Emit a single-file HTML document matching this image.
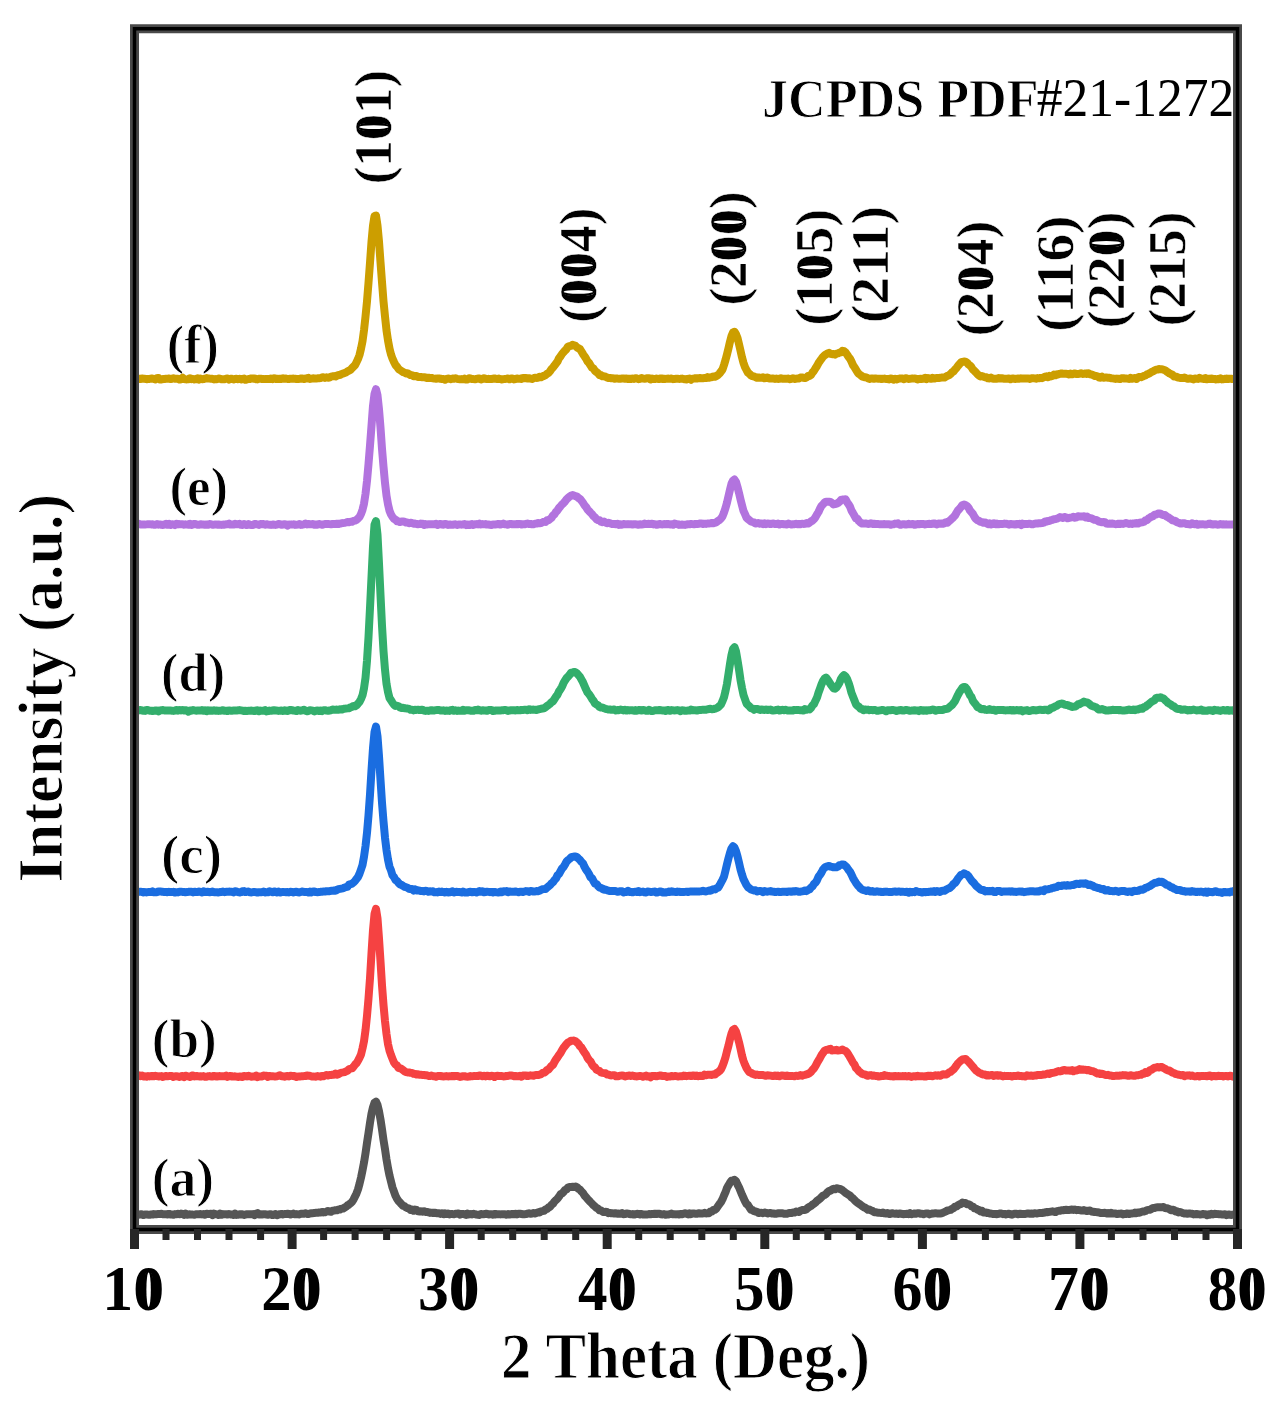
<!DOCTYPE html>
<html><head><meta charset="utf-8"><style>
html,body{margin:0;padding:0;background:#fff;}
svg{display:block;}
text{font-family:"Liberation Serif",serif;font-weight:bold;fill:#000;}
.b{font-weight:bold;}
</style></head><body>
<svg width="1286" height="1401" viewBox="0 0 1286 1401">
<rect width="1286" height="1401" fill="#fff"/>
<text transform="matrix(0.61818,0,0,0.62700,102.25,1310.20)" font-size="100">10</text>
<text transform="matrix(0.60543,0,0,0.62700,261.28,1310.20)" font-size="100">20</text>
<text transform="matrix(0.61630,0,0,0.62700,417.93,1310.20)" font-size="100">30</text>
<text transform="matrix(0.58942,0,0,0.62700,578.12,1310.20)" font-size="100">40</text>
<text transform="matrix(0.60543,0,0,0.62700,734.28,1310.20)" font-size="100">50</text>
<text transform="matrix(0.59784,0,0,0.62700,892.51,1310.20)" font-size="100">60</text>
<text transform="matrix(0.61878,0,0,0.62700,1048.00,1310.20)" font-size="100">70</text>
<text transform="matrix(0.59027,0,0,0.62700,1207.73,1310.20)" font-size="100">80</text>
<text transform="matrix(0.60853,0,0,0.64950,500.97,1377.90)" font-size="100" stroke="#fff" stroke-width="1.54">2 Theta (Deg.)</text>
<text transform="matrix(0,-0.62188,0.63750,0,61.50,882.38)" font-size="100" stroke="#fff" stroke-width="1.57">Intensity (a.u.)</text>
<text transform="matrix(0,-0.52771,0.53225,0,391.25,184.22)" font-size="100" stroke="#fff" stroke-width="0.94">(101)</text>
<text transform="matrix(0,-0.53205,0.53225,0,595.75,322.84)" font-size="100" stroke="#fff" stroke-width="0.94">(004)</text>
<text transform="matrix(0,-0.52771,0.53225,0,745.65,305.62)" font-size="100" stroke="#fff" stroke-width="0.94">(200)</text>
<text transform="matrix(0,-0.53928,0.53225,0,831.75,325.68)" font-size="100" stroke="#fff" stroke-width="0.94">(105)</text>
<text transform="matrix(0,-0.55347,0.53225,0,887.75,322.94)" font-size="100" stroke="#fff" stroke-width="0.94">(211)</text>
<text transform="matrix(0,-0.53253,0.53225,0,993.25,336.15)" font-size="100" stroke="#fff" stroke-width="0.94">(204)</text>
<text transform="matrix(0,-0.55000,0.53225,0,1073.25,331.73)" font-size="100" stroke="#fff" stroke-width="0.94">(116)</text>
<text transform="matrix(0,-0.53880,0.53225,0,1123.75,328.27)" font-size="100" stroke="#fff" stroke-width="0.94">(220)</text>
<text transform="matrix(0,-0.52916,0.53225,0,1185.05,326.23)" font-size="100" stroke="#fff" stroke-width="0.94">(215)</text>
<text transform="matrix(0.52131,0,0,0.55450,762.05,116.70)" font-size="100" stroke="#fff" stroke-width="1.80">JCPDS PDF</text>
<text transform="matrix(0.51531,0,0,0.54000,1036.77,116.20)" font-size="100"><tspan font-weight="normal">#21-1272</tspan></text>
<text transform="matrix(0.52198,0,0,0.54450,166.65,363.00)" font-size="100" stroke="#fff" stroke-width="1.84">(f)</text>
<text transform="matrix(0.52843,0,0,0.54450,169.42,504.90)" font-size="100" stroke="#fff" stroke-width="1.84">(e)</text>
<text transform="matrix(0.52423,0,0,0.54450,161.04,691.10)" font-size="100" stroke="#fff" stroke-width="1.84">(d)</text>
<text transform="matrix(0.55196,0,0,0.54450,160.92,872.80)" font-size="100" stroke="#fff" stroke-width="1.84">(c)</text>
<text transform="matrix(0.53216,0,0,0.54450,151.71,1056.60)" font-size="100" stroke="#fff" stroke-width="1.84">(b)</text>
<text transform="matrix(0.53581,0,0,0.54450,151.69,1196.10)" font-size="100" stroke="#fff" stroke-width="1.84">(a)</text>
<g transform="matrix(0.61818,0.00000,0.00000,0.62700,102.25,1310.20)"><ellipse cx="74.99" cy="-32.75" rx="9.2" ry="31" fill="#000"/><ellipse cx="74.99" cy="-32.75" rx="3.6" ry="27.5" fill="#fff"/></g>
<g transform="matrix(0.60543,0.00000,0.00000,0.62700,261.28,1310.20)"><ellipse cx="75.00" cy="-32.75" rx="9.2" ry="31" fill="#000"/><ellipse cx="75.00" cy="-32.75" rx="3.6" ry="27.5" fill="#fff"/></g>
<g transform="matrix(0.61630,0.00000,0.00000,0.62700,417.93,1310.20)"><ellipse cx="74.99" cy="-32.75" rx="9.2" ry="31" fill="#000"/><ellipse cx="74.99" cy="-32.75" rx="3.6" ry="27.5" fill="#fff"/></g>
<g transform="matrix(0.58942,0.00000,0.00000,0.62700,578.12,1310.20)"><ellipse cx="74.99" cy="-32.75" rx="9.2" ry="31" fill="#000"/><ellipse cx="74.99" cy="-32.75" rx="3.6" ry="27.5" fill="#fff"/></g>
<g transform="matrix(0.60543,0.00000,0.00000,0.62700,734.28,1310.20)"><ellipse cx="75.00" cy="-32.75" rx="9.2" ry="31" fill="#000"/><ellipse cx="75.00" cy="-32.75" rx="3.6" ry="27.5" fill="#fff"/></g>
<g transform="matrix(0.59784,0.00000,0.00000,0.62700,892.51,1310.20)"><ellipse cx="74.99" cy="-32.75" rx="9.2" ry="31" fill="#000"/><ellipse cx="74.99" cy="-32.75" rx="3.6" ry="27.5" fill="#fff"/></g>
<g transform="matrix(0.61878,0.00000,0.00000,0.62700,1048.00,1310.20)"><ellipse cx="74.99" cy="-32.75" rx="9.2" ry="31" fill="#000"/><ellipse cx="74.99" cy="-32.75" rx="3.6" ry="27.5" fill="#fff"/></g>
<g transform="matrix(0.59027,0.00000,0.00000,0.62700,1207.73,1310.20)"><ellipse cx="74.99" cy="-32.75" rx="9.2" ry="31" fill="#000"/><ellipse cx="74.99" cy="-32.75" rx="3.6" ry="27.5" fill="#fff"/></g>
<g transform="matrix(0.00000,-0.52771,0.53225,0.00000,391.25,184.22)"><ellipse cx="108.26" cy="-32.75" rx="9.2" ry="31" fill="#000"/><ellipse cx="108.26" cy="-32.75" rx="3.6" ry="27.5" fill="#fff"/></g>
<g transform="matrix(0.00000,-0.53205,0.53225,0.00000,595.75,322.84)"><ellipse cx="58.27" cy="-32.75" rx="9.2" ry="31" fill="#000"/><ellipse cx="58.27" cy="-32.75" rx="3.6" ry="27.5" fill="#fff"/></g>
<g transform="matrix(0.00000,-0.53205,0.53225,0.00000,595.75,322.84)"><ellipse cx="108.27" cy="-32.75" rx="9.2" ry="31" fill="#000"/><ellipse cx="108.27" cy="-32.75" rx="3.6" ry="27.5" fill="#fff"/></g>
<g transform="matrix(0.00000,-0.52771,0.53225,0.00000,745.65,305.62)"><ellipse cx="108.26" cy="-32.75" rx="9.2" ry="31" fill="#000"/><ellipse cx="108.26" cy="-32.75" rx="3.6" ry="27.5" fill="#fff"/></g>
<g transform="matrix(0.00000,-0.52771,0.53225,0.00000,745.65,305.62)"><ellipse cx="158.26" cy="-32.75" rx="9.2" ry="31" fill="#000"/><ellipse cx="158.26" cy="-32.75" rx="3.6" ry="27.5" fill="#fff"/></g>
<g transform="matrix(0.00000,-0.53928,0.53225,0.00000,831.75,325.68)"><ellipse cx="108.26" cy="-32.75" rx="9.2" ry="31" fill="#000"/><ellipse cx="108.26" cy="-32.75" rx="3.6" ry="27.5" fill="#fff"/></g>
<g transform="matrix(0.00000,-0.53253,0.53225,0.00000,993.25,336.15)"><ellipse cx="108.26" cy="-32.75" rx="9.2" ry="31" fill="#000"/><ellipse cx="108.26" cy="-32.75" rx="3.6" ry="27.5" fill="#fff"/></g>
<g transform="matrix(0.00000,-0.53880,0.53225,0.00000,1123.75,328.27)"><ellipse cx="158.28" cy="-32.75" rx="9.2" ry="31" fill="#000"/><ellipse cx="158.28" cy="-32.75" rx="3.6" ry="27.5" fill="#fff"/></g>
<g>
<path d="M134.5,1214.4 136.0,1214.8 137.5,1214.1 139.0,1214.7 140.5,1214.3 142.0,1214.3 143.5,1215.1 145.0,1214.5 146.5,1214.4 148.0,1214.7 149.5,1214.8 151.0,1214.4 152.5,1214.6 154.0,1214.1 155.5,1214.3 157.0,1214.2 158.5,1213.9 160.0,1213.9 161.5,1213.8 163.0,1214.3 164.5,1214.3 166.0,1214.3 167.5,1214.4 169.0,1213.9 170.5,1214.4 172.0,1214.5 173.5,1214.7 175.0,1214.1 176.5,1214.3 178.0,1213.7 179.5,1214.2 181.0,1213.6 182.5,1213.9 184.0,1214.8 185.5,1213.6 187.0,1214.7 188.5,1214.5 190.0,1214.3 191.5,1214.6 193.0,1214.6 194.5,1214.8 196.0,1214.3 197.5,1214.2 199.0,1214.2 200.5,1214.1 202.0,1214.4 203.5,1214.1 205.0,1214.8 206.5,1213.7 208.0,1214.0 209.5,1214.1 211.0,1213.7 212.5,1215.1 214.0,1213.6 215.5,1214.3 217.0,1214.2 218.5,1215.0 220.0,1213.7 221.5,1214.8 223.0,1214.1 224.5,1214.3 226.0,1214.2 227.5,1214.6 229.0,1214.0 230.5,1214.4 232.0,1214.5 233.5,1215.0 235.0,1213.6 236.5,1214.9 238.0,1214.7 239.5,1214.2 241.0,1214.5 242.5,1214.2 244.0,1215.0 245.5,1214.5 247.0,1214.3 248.5,1214.3 250.0,1214.3 251.5,1214.3 253.0,1214.1 254.5,1215.1 256.0,1213.7 257.5,1213.1 259.0,1214.4 260.5,1214.3 262.0,1214.5 263.5,1214.3 265.0,1214.3 266.5,1214.5 268.0,1214.7 269.5,1214.2 271.0,1214.3 272.5,1215.1 274.0,1214.6 275.5,1214.0 277.0,1215.2 278.5,1214.6 280.0,1214.1 281.5,1213.9 283.0,1214.4 284.5,1214.0 286.0,1213.9 287.5,1213.8 289.0,1214.0 290.5,1214.6 292.0,1214.0 293.5,1213.6 295.0,1214.3 296.5,1214.1 298.0,1214.3 299.5,1214.4 301.0,1213.8 302.5,1213.8 304.0,1213.8 305.5,1213.3 307.0,1213.9 308.5,1214.0 310.0,1213.5 311.5,1213.3 313.0,1213.2 314.5,1212.9 316.0,1212.8 317.5,1212.8 319.0,1212.5 320.5,1212.5 322.0,1211.9 323.5,1212.4 325.0,1212.2 326.5,1211.6 328.0,1210.9 329.5,1211.5 331.0,1211.7 332.5,1210.8 334.0,1210.6 335.5,1210.2 337.0,1210.3 338.5,1209.4 340.0,1209.6 341.5,1208.7 343.0,1208.6 344.5,1207.6 346.0,1206.8 347.5,1205.4 349.0,1204.6 350.5,1203.3 352.0,1201.9 353.5,1199.6 355.0,1196.5 356.5,1193.4 358.0,1189.4 359.5,1183.9 361.0,1177.6 362.5,1170.4 364.0,1162.6 365.5,1153.3 367.0,1142.9 368.5,1133.1 370.0,1122.7 371.5,1113.6 373.0,1107.2 374.5,1102.8 376.0,1101.7 377.5,1105.0 379.0,1111.3 380.5,1119.4 382.0,1129.4 383.5,1140.0 385.0,1149.2 386.5,1159.4 388.0,1168.1 389.5,1175.6 391.0,1181.5 392.5,1187.5 394.0,1191.6 395.5,1195.8 397.0,1198.8 398.5,1201.0 400.0,1202.6 401.5,1204.2 403.0,1205.9 404.5,1206.2 406.0,1207.5 407.5,1208.2 409.0,1208.5 410.5,1210.0 412.0,1209.6 413.5,1210.7 415.0,1209.6 416.5,1209.9 418.0,1211.3 419.5,1211.4 421.0,1211.3 422.5,1211.7 424.0,1211.2 425.5,1211.9 427.0,1211.9 428.5,1212.3 430.0,1212.9 431.5,1212.7 433.0,1213.0 434.5,1212.7 436.0,1213.0 437.5,1213.3 439.0,1213.2 440.5,1213.9 442.0,1213.2 443.5,1214.2 445.0,1213.3 446.5,1214.1 448.0,1213.5 449.5,1214.4 451.0,1214.0 452.5,1214.1 454.0,1214.3 455.5,1213.8 457.0,1213.7 458.5,1213.4 460.0,1214.6 461.5,1213.9 463.0,1214.0 464.5,1214.2 466.0,1214.9 467.5,1213.6 469.0,1214.4 470.5,1214.1 472.0,1214.5 473.5,1213.7 475.0,1214.2 476.5,1214.6 478.0,1214.8 479.5,1214.9 481.0,1214.0 482.5,1214.3 484.0,1214.2 485.5,1213.8 487.0,1213.8 488.5,1214.5 490.0,1214.3 491.5,1214.2 493.0,1214.7 494.5,1213.9 496.0,1214.4 497.5,1214.2 499.0,1214.2 500.5,1214.4 502.0,1214.2 503.5,1214.3 505.0,1214.2 506.5,1214.8 508.0,1214.0 509.5,1214.5 511.0,1214.3 512.5,1213.9 514.0,1214.3 515.5,1213.7 517.0,1214.4 518.5,1213.7 520.0,1213.8 521.5,1214.0 523.0,1214.2 524.5,1214.2 526.0,1214.1 527.5,1213.7 529.0,1213.3 530.5,1213.8 532.0,1213.6 533.5,1213.0 535.0,1213.5 536.5,1213.0 538.0,1212.3 539.5,1212.5 541.0,1211.4 542.5,1211.1 544.0,1210.9 545.5,1209.4 547.0,1209.0 548.5,1207.4 550.0,1206.9 551.5,1204.9 553.0,1203.7 554.5,1201.4 556.0,1200.1 557.5,1198.7 559.0,1196.7 560.5,1194.2 562.0,1193.5 563.5,1191.9 565.0,1190.0 566.5,1189.4 568.0,1187.5 569.5,1187.0 571.0,1186.9 572.5,1186.8 574.0,1186.9 575.5,1186.5 577.0,1187.1 578.5,1188.9 580.0,1189.6 581.5,1191.6 583.0,1192.9 584.5,1195.5 586.0,1197.2 587.5,1198.9 589.0,1200.5 590.5,1202.2 592.0,1203.6 593.5,1205.3 595.0,1206.6 596.5,1207.9 598.0,1208.6 599.5,1210.3 601.0,1210.5 602.5,1211.6 604.0,1212.1 605.5,1211.8 607.0,1211.9 608.5,1213.2 610.0,1212.9 611.5,1213.3 613.0,1213.3 614.5,1213.6 616.0,1213.2 617.5,1213.7 619.0,1213.6 620.5,1213.8 622.0,1213.0 623.5,1214.2 625.0,1214.1 626.5,1213.4 628.0,1213.7 629.5,1214.0 631.0,1214.3 632.5,1214.1 634.0,1214.6 635.5,1214.1 637.0,1213.8 638.5,1213.9 640.0,1214.4 641.5,1213.9 643.0,1214.5 644.5,1214.5 646.0,1214.4 647.5,1214.5 649.0,1214.1 650.5,1214.2 652.0,1214.0 653.5,1214.0 655.0,1213.7 656.5,1214.0 658.0,1213.8 659.5,1213.7 661.0,1214.3 662.5,1214.4 664.0,1214.1 665.5,1214.7 667.0,1214.5 668.5,1214.5 670.0,1214.0 671.5,1213.6 673.0,1214.3 674.5,1214.2 676.0,1214.4 677.5,1214.2 679.0,1214.5 680.5,1213.9 682.0,1214.3 683.5,1213.7 685.0,1213.2 686.5,1213.8 688.0,1214.4 689.5,1213.3 691.0,1214.2 692.5,1213.5 694.0,1213.6 695.5,1213.7 697.0,1213.7 698.5,1213.2 700.0,1213.5 701.5,1213.5 703.0,1213.5 704.5,1212.8 706.0,1213.4 707.5,1213.3 709.0,1213.2 710.5,1211.4 712.0,1211.4 713.5,1209.9 715.0,1209.7 716.5,1208.4 718.0,1206.1 719.5,1203.9 721.0,1202.0 722.5,1199.2 724.0,1195.5 725.5,1192.2 727.0,1187.9 728.5,1185.2 730.0,1182.7 731.5,1180.7 733.0,1180.3 734.5,1179.8 736.0,1181.0 737.5,1184.5 739.0,1187.3 740.5,1191.0 742.0,1194.7 743.5,1198.0 745.0,1201.3 746.5,1204.0 748.0,1205.1 749.5,1207.5 751.0,1209.7 752.5,1209.9 754.0,1211.2 755.5,1211.5 757.0,1211.8 758.5,1212.9 760.0,1212.9 761.5,1212.7 763.0,1213.2 764.5,1212.5 766.0,1212.8 767.5,1213.5 769.0,1213.2 770.5,1212.9 772.0,1213.5 773.5,1213.5 775.0,1213.8 776.5,1213.7 778.0,1213.3 779.5,1213.2 781.0,1213.3 782.5,1213.3 784.0,1213.8 785.5,1213.8 787.0,1213.7 788.5,1213.2 790.0,1212.9 791.5,1213.1 793.0,1212.5 794.5,1212.5 796.0,1211.6 797.5,1211.7 799.0,1212.0 800.5,1210.7 802.0,1210.1 803.5,1210.0 805.0,1210.0 806.5,1209.2 808.0,1207.7 809.5,1206.8 811.0,1206.0 812.5,1204.6 814.0,1203.8 815.5,1202.5 817.0,1200.8 818.5,1199.8 820.0,1198.6 821.5,1197.1 823.0,1195.6 824.5,1195.0 826.0,1194.1 827.5,1192.2 829.0,1191.1 830.5,1190.6 832.0,1189.6 833.5,1188.8 835.0,1189.3 836.5,1188.3 838.0,1188.5 839.5,1188.9 841.0,1189.4 842.5,1190.3 844.0,1191.5 845.5,1192.9 847.0,1193.7 848.5,1194.8 850.0,1195.6 851.5,1197.4 853.0,1198.4 854.5,1200.0 856.0,1201.7 857.5,1202.7 859.0,1203.8 860.5,1204.7 862.0,1206.0 863.5,1207.1 865.0,1207.6 866.5,1208.6 868.0,1209.8 869.5,1209.5 871.0,1210.5 872.5,1210.8 874.0,1212.2 875.5,1212.2 877.0,1212.5 878.5,1212.7 880.0,1212.9 881.5,1213.1 883.0,1212.6 884.5,1213.4 886.0,1213.6 887.5,1213.0 889.0,1213.9 890.5,1213.9 892.0,1213.2 893.5,1213.6 895.0,1213.7 896.5,1213.6 898.0,1214.0 899.5,1213.4 901.0,1213.8 902.5,1214.0 904.0,1214.2 905.5,1213.9 907.0,1213.8 908.5,1214.2 910.0,1213.2 911.5,1214.3 913.0,1213.8 914.5,1213.5 916.0,1213.8 917.5,1213.3 919.0,1213.2 920.5,1213.8 922.0,1213.7 923.5,1214.2 925.0,1213.6 926.5,1213.4 928.0,1213.5 929.5,1214.4 931.0,1213.8 932.5,1213.5 934.0,1213.4 935.5,1213.2 937.0,1213.4 938.5,1213.5 940.0,1213.6 941.5,1213.3 943.0,1212.7 944.5,1212.0 946.0,1211.4 947.5,1210.4 949.0,1210.2 950.5,1209.9 952.0,1208.8 953.5,1208.1 955.0,1206.6 956.5,1206.4 958.0,1205.3 959.5,1204.4 961.0,1203.9 962.5,1202.6 964.0,1203.0 965.5,1203.0 967.0,1204.3 968.5,1204.3 970.0,1204.9 971.5,1206.3 973.0,1206.6 974.5,1208.4 976.0,1208.6 977.5,1209.6 979.0,1210.1 980.5,1211.4 982.0,1210.9 983.5,1212.4 985.0,1212.3 986.5,1212.9 988.0,1212.8 989.5,1213.5 991.0,1213.6 992.5,1213.9 994.0,1213.9 995.5,1214.0 997.0,1214.2 998.5,1213.8 1000.0,1213.5 1001.5,1213.5 1003.0,1214.2 1004.5,1213.9 1006.0,1214.4 1007.5,1214.0 1009.0,1213.7 1010.5,1214.3 1012.0,1214.7 1013.5,1213.9 1015.0,1213.7 1016.5,1213.7 1018.0,1214.3 1019.5,1213.7 1021.0,1213.8 1022.5,1214.1 1024.0,1213.9 1025.5,1213.9 1027.0,1213.6 1028.5,1213.5 1030.0,1213.7 1031.5,1213.6 1033.0,1213.7 1034.5,1213.2 1036.0,1213.4 1037.5,1213.4 1039.0,1213.1 1040.5,1213.1 1042.0,1213.1 1043.5,1212.7 1045.0,1212.5 1046.5,1212.0 1048.0,1212.2 1049.5,1211.9 1051.0,1211.6 1052.5,1211.3 1054.0,1211.6 1055.5,1212.1 1057.0,1211.1 1058.5,1210.8 1060.0,1210.8 1061.5,1210.2 1063.0,1210.3 1064.5,1209.9 1066.0,1209.8 1067.5,1210.0 1069.0,1209.9 1070.5,1209.8 1072.0,1209.5 1073.5,1209.9 1075.0,1209.5 1076.5,1210.2 1078.0,1209.9 1079.5,1210.1 1081.0,1210.5 1082.5,1210.6 1084.0,1210.1 1085.5,1210.7 1087.0,1211.1 1088.5,1210.7 1090.0,1210.5 1091.5,1211.5 1093.0,1211.7 1094.5,1212.0 1096.0,1212.1 1097.5,1212.3 1099.0,1212.5 1100.5,1213.0 1102.0,1212.9 1103.5,1213.0 1105.0,1212.8 1106.5,1213.5 1108.0,1213.1 1109.5,1213.6 1111.0,1212.7 1112.5,1213.6 1114.0,1213.5 1115.5,1213.4 1117.0,1214.1 1118.5,1213.8 1120.0,1213.7 1121.5,1213.5 1123.0,1214.4 1124.5,1214.0 1126.0,1213.9 1127.5,1213.4 1129.0,1214.1 1130.5,1213.7 1132.0,1213.4 1133.5,1213.3 1135.0,1212.6 1136.5,1213.2 1138.0,1212.4 1139.5,1212.8 1141.0,1212.0 1142.5,1211.6 1144.0,1211.5 1145.5,1211.0 1147.0,1210.1 1148.5,1209.9 1150.0,1209.7 1151.5,1208.9 1153.0,1208.0 1154.5,1208.0 1156.0,1207.4 1157.5,1207.3 1159.0,1207.3 1160.5,1207.2 1162.0,1207.3 1163.5,1207.0 1165.0,1208.0 1166.5,1208.2 1168.0,1208.5 1169.5,1209.2 1171.0,1210.3 1172.5,1209.7 1174.0,1210.1 1175.5,1211.4 1177.0,1211.3 1178.5,1212.4 1180.0,1212.0 1181.5,1212.5 1183.0,1213.2 1184.5,1213.5 1186.0,1213.5 1187.5,1213.7 1189.0,1213.6 1190.5,1213.6 1192.0,1213.8 1193.5,1214.4 1195.0,1214.2 1196.5,1214.0 1198.0,1214.2 1199.5,1214.4 1201.0,1214.5 1202.5,1214.1 1204.0,1214.1 1205.5,1214.3 1207.0,1215.1 1208.5,1214.3 1210.0,1214.7 1211.5,1213.7 1213.0,1214.5 1214.5,1213.8 1216.0,1213.9 1217.5,1214.1 1219.0,1214.2 1220.5,1214.3 1222.0,1214.4 1223.5,1214.4 1225.0,1214.2 1226.5,1215.2 1228.0,1214.5 1229.5,1214.6 1231.0,1215.0 1232.5,1214.7 1234.0,1214.5 1235.5,1214.4 1237.0,1215.0" fill="none" stroke="#555555" stroke-width="8.0" stroke-linejoin="round"/>
<path d="M134.5,1075.8 136.0,1075.8 137.5,1076.5 139.0,1075.4 140.5,1076.2 142.0,1075.5 143.5,1076.6 145.0,1076.3 146.5,1076.7 148.0,1076.1 149.5,1076.4 151.0,1076.1 152.5,1076.0 154.0,1076.3 155.5,1075.8 157.0,1076.1 158.5,1076.5 160.0,1076.3 161.5,1076.1 163.0,1077.0 164.5,1076.3 166.0,1076.0 167.5,1076.3 169.0,1076.1 170.5,1076.1 172.0,1076.1 173.5,1077.0 175.0,1076.3 176.5,1076.3 178.0,1076.5 179.5,1077.0 181.0,1076.2 182.5,1076.0 184.0,1077.1 185.5,1075.7 187.0,1076.1 188.5,1076.5 190.0,1077.0 191.5,1075.9 193.0,1075.4 194.5,1076.5 196.0,1076.1 197.5,1076.1 199.0,1076.4 200.5,1076.3 202.0,1076.4 203.5,1076.1 205.0,1076.7 206.5,1076.8 208.0,1076.3 209.5,1076.1 211.0,1076.5 212.5,1076.4 214.0,1075.9 215.5,1076.1 217.0,1076.6 218.5,1076.2 220.0,1076.1 221.5,1076.3 223.0,1076.2 224.5,1076.2 226.0,1075.6 227.5,1076.9 229.0,1076.3 230.5,1075.9 232.0,1076.6 233.5,1076.4 235.0,1076.3 236.5,1076.6 238.0,1077.0 239.5,1076.4 241.0,1076.8 242.5,1077.0 244.0,1075.9 245.5,1076.1 247.0,1076.5 248.5,1075.7 250.0,1076.2 251.5,1076.7 253.0,1076.6 254.5,1076.5 256.0,1075.6 257.5,1077.1 259.0,1076.4 260.5,1076.5 262.0,1076.4 263.5,1075.6 265.0,1075.7 266.5,1075.8 268.0,1076.9 269.5,1076.0 271.0,1076.2 272.5,1076.2 274.0,1076.4 275.5,1076.4 277.0,1076.3 278.5,1075.8 280.0,1075.2 281.5,1076.3 283.0,1076.3 284.5,1076.7 286.0,1076.2 287.5,1076.0 289.0,1076.4 290.5,1075.7 292.0,1075.9 293.5,1075.9 295.0,1076.4 296.5,1077.0 298.0,1076.5 299.5,1076.6 301.0,1076.3 302.5,1076.3 304.0,1076.1 305.5,1076.1 307.0,1075.4 308.5,1075.8 310.0,1075.8 311.5,1076.5 313.0,1076.4 314.5,1076.6 316.0,1076.7 317.5,1076.0 319.0,1076.4 320.5,1076.7 322.0,1075.9 323.5,1076.2 325.0,1075.6 326.5,1075.0 328.0,1075.5 329.5,1075.0 331.0,1075.1 332.5,1074.7 334.0,1074.7 335.5,1073.6 337.0,1074.7 338.5,1074.2 340.0,1073.2 341.5,1072.6 343.0,1072.4 344.5,1072.1 346.0,1071.4 347.5,1070.8 349.0,1069.2 350.5,1068.6 352.0,1068.4 353.5,1066.8 355.0,1064.7 356.5,1063.2 358.0,1060.7 359.5,1057.8 361.0,1054.5 362.5,1048.4 364.0,1041.2 365.5,1030.3 367.0,1015.9 368.5,998.5 370.0,978.2 371.5,953.3 373.0,930.1 374.5,914.0 376.0,908.9 377.5,918.3 379.0,938.6 380.5,961.3 382.0,985.2 383.5,1004.9 385.0,1021.1 386.5,1034.0 388.0,1044.1 389.5,1050.6 391.0,1055.0 392.5,1058.9 394.0,1062.6 395.5,1064.5 397.0,1065.4 398.5,1068.0 400.0,1068.2 401.5,1068.9 403.0,1070.1 404.5,1071.2 406.0,1072.1 407.5,1072.4 409.0,1072.4 410.5,1072.8 412.0,1072.9 413.5,1073.8 415.0,1073.9 416.5,1074.5 418.0,1074.2 419.5,1074.7 421.0,1074.8 422.5,1074.9 424.0,1075.0 425.5,1075.2 427.0,1075.3 428.5,1076.0 430.0,1076.0 431.5,1075.5 433.0,1076.2 434.5,1076.2 436.0,1076.7 437.5,1076.1 439.0,1076.1 440.5,1076.0 442.0,1076.3 443.5,1076.4 445.0,1076.3 446.5,1076.1 448.0,1076.4 449.5,1076.3 451.0,1076.3 452.5,1075.9 454.0,1076.3 455.5,1075.9 457.0,1075.9 458.5,1076.3 460.0,1077.0 461.5,1076.6 463.0,1076.2 464.5,1076.2 466.0,1076.6 467.5,1076.7 469.0,1076.6 470.5,1076.1 472.0,1076.3 473.5,1076.1 475.0,1076.1 476.5,1075.9 478.0,1076.1 479.5,1075.4 481.0,1075.7 482.5,1076.3 484.0,1075.8 485.5,1076.4 487.0,1075.7 488.5,1076.0 490.0,1076.3 491.5,1075.8 493.0,1075.9 494.5,1077.0 496.0,1075.9 497.5,1075.8 499.0,1075.9 500.5,1076.1 502.0,1076.1 503.5,1076.4 505.0,1076.3 506.5,1075.9 508.0,1075.9 509.5,1075.5 511.0,1075.4 512.5,1075.7 514.0,1076.2 515.5,1076.0 517.0,1076.2 518.5,1076.2 520.0,1075.8 521.5,1076.6 523.0,1075.6 524.5,1075.5 526.0,1075.6 527.5,1076.1 529.0,1075.6 530.5,1075.3 532.0,1075.6 533.5,1075.7 535.0,1075.1 536.5,1074.9 538.0,1075.1 539.5,1074.7 541.0,1074.2 542.5,1073.0 544.0,1072.7 545.5,1071.8 547.0,1069.9 548.5,1069.7 550.0,1067.7 551.5,1065.8 553.0,1064.8 554.5,1061.9 556.0,1059.4 557.5,1057.3 559.0,1055.1 560.5,1052.9 562.0,1050.3 563.5,1047.8 565.0,1045.9 566.5,1044.1 568.0,1042.5 569.5,1041.7 571.0,1040.8 572.5,1040.7 574.0,1040.6 575.5,1041.2 577.0,1042.5 578.5,1043.9 580.0,1046.3 581.5,1047.6 583.0,1050.3 584.5,1052.6 586.0,1054.6 587.5,1057.8 589.0,1059.9 590.5,1061.3 592.0,1064.3 593.5,1066.3 595.0,1067.3 596.5,1069.7 598.0,1070.4 599.5,1071.0 601.0,1072.5 602.5,1072.9 604.0,1073.1 605.5,1073.3 607.0,1074.6 608.5,1074.5 610.0,1075.3 611.5,1075.4 613.0,1075.2 614.5,1075.3 616.0,1076.2 617.5,1076.3 619.0,1076.0 620.5,1075.6 622.0,1075.4 623.5,1075.7 625.0,1076.5 626.5,1076.0 628.0,1075.8 629.5,1075.5 631.0,1076.0 632.5,1075.6 634.0,1076.0 635.5,1076.3 637.0,1076.4 638.5,1076.1 640.0,1075.9 641.5,1076.1 643.0,1076.7 644.5,1076.2 646.0,1075.6 647.5,1076.6 649.0,1076.2 650.5,1077.3 652.0,1075.9 653.5,1076.1 655.0,1076.0 656.5,1076.3 658.0,1075.9 659.5,1075.6 661.0,1075.5 662.5,1076.1 664.0,1076.0 665.5,1076.0 667.0,1076.9 668.5,1076.5 670.0,1076.6 671.5,1076.0 673.0,1076.3 674.5,1076.1 676.0,1076.1 677.5,1076.4 679.0,1076.4 680.5,1076.2 682.0,1076.2 683.5,1075.6 685.0,1075.8 686.5,1076.2 688.0,1075.9 689.5,1075.7 691.0,1076.1 692.5,1075.6 694.0,1075.6 695.5,1076.1 697.0,1075.6 698.5,1076.2 700.0,1075.8 701.5,1075.9 703.0,1075.9 704.5,1074.6 706.0,1075.3 707.5,1074.7 709.0,1074.8 710.5,1074.8 712.0,1075.0 713.5,1074.3 715.0,1074.5 716.5,1073.1 718.0,1072.3 719.5,1071.0 721.0,1069.3 722.5,1066.0 724.0,1062.0 725.5,1057.2 727.0,1051.1 728.5,1045.6 730.0,1039.1 731.5,1033.5 733.0,1029.9 734.5,1029.0 736.0,1031.5 737.5,1036.7 739.0,1042.2 740.5,1048.7 742.0,1055.6 743.5,1060.9 745.0,1064.7 746.5,1068.0 748.0,1070.3 749.5,1072.3 751.0,1072.8 752.5,1073.7 754.0,1074.3 755.5,1075.0 757.0,1074.6 758.5,1075.0 760.0,1074.9 761.5,1075.0 763.0,1075.1 764.5,1075.5 766.0,1075.8 767.5,1075.3 769.0,1075.4 770.5,1075.6 772.0,1075.9 773.5,1076.0 775.0,1075.4 776.5,1076.0 778.0,1075.6 779.5,1076.2 781.0,1075.6 782.5,1075.6 784.0,1075.7 785.5,1076.0 787.0,1075.6 788.5,1076.1 790.0,1076.0 791.5,1076.0 793.0,1076.1 794.5,1076.3 796.0,1075.7 797.5,1075.9 799.0,1075.8 800.5,1075.0 802.0,1075.7 803.5,1075.1 805.0,1074.8 806.5,1074.4 808.0,1073.9 809.5,1073.1 811.0,1071.9 812.5,1069.9 814.0,1068.4 815.5,1066.0 817.0,1063.1 818.5,1060.5 820.0,1057.9 821.5,1055.1 823.0,1052.9 824.5,1050.8 826.0,1050.0 827.5,1049.8 829.0,1049.2 830.5,1048.8 832.0,1050.5 833.5,1050.2 835.0,1050.2 836.5,1049.8 838.0,1050.6 839.5,1050.4 841.0,1050.1 842.5,1049.5 844.0,1050.5 845.5,1051.0 847.0,1052.4 848.5,1054.7 850.0,1057.2 851.5,1059.9 853.0,1062.7 854.5,1064.5 856.0,1068.1 857.5,1069.4 859.0,1071.5 860.5,1072.4 862.0,1073.7 863.5,1074.3 865.0,1074.4 866.5,1075.4 868.0,1075.8 869.5,1075.3 871.0,1075.1 872.5,1075.7 874.0,1075.6 875.5,1076.0 877.0,1076.0 878.5,1076.6 880.0,1076.3 881.5,1076.0 883.0,1076.1 884.5,1075.1 886.0,1075.8 887.5,1075.8 889.0,1076.1 890.5,1076.2 892.0,1076.2 893.5,1076.5 895.0,1075.9 896.5,1076.3 898.0,1076.1 899.5,1076.2 901.0,1076.3 902.5,1076.1 904.0,1076.2 905.5,1076.1 907.0,1076.5 908.5,1076.1 910.0,1076.2 911.5,1077.0 913.0,1076.3 914.5,1076.3 916.0,1076.5 917.5,1075.7 919.0,1076.3 920.5,1076.3 922.0,1076.2 923.5,1076.4 925.0,1076.3 926.5,1076.4 928.0,1075.7 929.5,1076.1 931.0,1075.7 932.5,1076.3 934.0,1075.8 935.5,1075.3 937.0,1075.7 938.5,1075.2 940.0,1075.8 941.5,1075.1 943.0,1074.2 944.5,1074.5 946.0,1074.6 947.5,1073.7 949.0,1072.5 950.5,1071.9 952.0,1070.6 953.5,1069.4 955.0,1067.5 956.5,1065.5 958.0,1063.3 959.5,1061.9 961.0,1060.5 962.5,1059.4 964.0,1059.1 965.5,1058.9 967.0,1060.4 968.5,1061.6 970.0,1063.4 971.5,1065.1 973.0,1066.8 974.5,1068.7 976.0,1070.5 977.5,1071.4 979.0,1072.7 980.5,1073.2 982.0,1074.2 983.5,1074.6 985.0,1074.5 986.5,1075.6 988.0,1075.1 989.5,1075.5 991.0,1075.1 992.5,1075.1 994.0,1076.0 995.5,1075.3 997.0,1075.1 998.5,1075.8 1000.0,1075.3 1001.5,1075.8 1003.0,1076.5 1004.5,1075.8 1006.0,1076.1 1007.5,1076.1 1009.0,1076.1 1010.5,1075.9 1012.0,1076.5 1013.5,1076.0 1015.0,1076.1 1016.5,1076.0 1018.0,1075.5 1019.5,1076.1 1021.0,1076.0 1022.5,1076.2 1024.0,1076.2 1025.5,1076.5 1027.0,1075.3 1028.5,1075.7 1030.0,1075.7 1031.5,1075.5 1033.0,1075.9 1034.5,1075.6 1036.0,1075.6 1037.5,1074.9 1039.0,1075.0 1040.5,1075.1 1042.0,1074.8 1043.5,1074.5 1045.0,1074.4 1046.5,1074.0 1048.0,1073.4 1049.5,1074.0 1051.0,1072.9 1052.5,1073.0 1054.0,1072.6 1055.5,1072.4 1057.0,1071.5 1058.5,1071.1 1060.0,1071.4 1061.5,1071.1 1063.0,1070.1 1064.5,1069.9 1066.0,1070.6 1067.5,1070.6 1069.0,1070.5 1070.5,1070.7 1072.0,1070.1 1073.5,1071.3 1075.0,1070.5 1076.5,1070.5 1078.0,1070.0 1079.5,1069.1 1081.0,1069.8 1082.5,1069.4 1084.0,1069.8 1085.5,1069.8 1087.0,1070.3 1088.5,1070.0 1090.0,1070.6 1091.5,1071.1 1093.0,1071.3 1094.5,1071.9 1096.0,1072.7 1097.5,1073.6 1099.0,1073.3 1100.5,1074.1 1102.0,1073.7 1103.5,1074.3 1105.0,1074.8 1106.5,1075.1 1108.0,1074.8 1109.5,1075.5 1111.0,1075.5 1112.5,1076.0 1114.0,1075.9 1115.5,1075.8 1117.0,1075.6 1118.5,1075.8 1120.0,1075.5 1121.5,1075.5 1123.0,1075.1 1124.5,1075.3 1126.0,1075.3 1127.5,1075.7 1129.0,1075.8 1130.5,1075.2 1132.0,1075.6 1133.5,1075.7 1135.0,1075.8 1136.5,1075.3 1138.0,1075.2 1139.5,1074.7 1141.0,1074.8 1142.5,1073.6 1144.0,1073.7 1145.5,1072.2 1147.0,1073.0 1148.5,1071.9 1150.0,1070.1 1151.5,1069.8 1153.0,1068.7 1154.5,1067.8 1156.0,1067.6 1157.5,1067.0 1159.0,1067.5 1160.5,1067.0 1162.0,1067.1 1163.5,1068.0 1165.0,1068.8 1166.5,1069.7 1168.0,1070.5 1169.5,1070.6 1171.0,1071.6 1172.5,1072.6 1174.0,1073.0 1175.5,1074.1 1177.0,1074.2 1178.5,1074.7 1180.0,1074.9 1181.5,1075.3 1183.0,1075.0 1184.5,1076.3 1186.0,1075.5 1187.5,1075.6 1189.0,1075.3 1190.5,1075.9 1192.0,1075.5 1193.5,1076.1 1195.0,1076.4 1196.5,1076.2 1198.0,1075.9 1199.5,1076.5 1201.0,1076.0 1202.5,1076.1 1204.0,1076.1 1205.5,1075.9 1207.0,1076.3 1208.5,1075.7 1210.0,1075.5 1211.5,1076.6 1213.0,1075.9 1214.5,1076.0 1216.0,1076.3 1217.5,1076.0 1219.0,1075.8 1220.5,1076.1 1222.0,1075.9 1223.5,1076.4 1225.0,1076.0 1226.5,1076.1 1228.0,1076.5 1229.5,1075.7 1231.0,1075.7 1232.5,1076.5 1234.0,1076.7 1235.5,1076.3 1237.0,1076.0" fill="none" stroke="#F54242" stroke-width="8.0" stroke-linejoin="round"/>
<path d="M134.5,891.9 136.0,892.2 137.5,891.9 139.0,891.9 140.5,891.7 142.0,891.9 143.5,892.4 145.0,892.1 146.5,892.4 148.0,892.1 149.5,892.1 151.0,892.1 152.5,891.4 154.0,892.3 155.5,892.2 157.0,892.2 158.5,891.4 160.0,891.4 161.5,891.7 163.0,891.8 164.5,892.1 166.0,892.0 167.5,892.2 169.0,891.8 170.5,892.1 172.0,892.1 173.5,891.8 175.0,892.6 176.5,892.2 178.0,892.4 179.5,891.8 181.0,891.7 182.5,891.9 184.0,892.0 185.5,892.2 187.0,892.1 188.5,891.8 190.0,891.7 191.5,891.8 193.0,892.4 194.5,891.7 196.0,892.1 197.5,892.1 199.0,891.5 200.5,892.0 202.0,892.5 203.5,891.3 205.0,891.9 206.5,892.0 208.0,891.7 209.5,892.2 211.0,892.0 212.5,891.5 214.0,892.3 215.5,892.2 217.0,892.3 218.5,892.5 220.0,892.1 221.5,892.0 223.0,891.5 224.5,892.2 226.0,891.8 227.5,891.8 229.0,891.6 230.5,891.7 232.0,891.8 233.5,892.5 235.0,891.3 236.5,891.5 238.0,892.1 239.5,892.5 241.0,892.2 242.5,891.3 244.0,891.1 245.5,892.1 247.0,891.7 248.5,891.6 250.0,892.3 251.5,892.4 253.0,892.1 254.5,892.1 256.0,892.2 257.5,892.6 259.0,892.2 260.5,892.2 262.0,892.2 263.5,891.5 265.0,892.4 266.5,892.3 268.0,892.2 269.5,891.3 271.0,891.8 272.5,892.3 274.0,891.4 275.5,891.9 277.0,892.4 278.5,891.5 280.0,892.6 281.5,892.2 283.0,891.9 284.5,892.1 286.0,892.2 287.5,892.0 289.0,892.4 290.5,891.8 292.0,891.9 293.5,892.4 295.0,892.0 296.5,891.7 298.0,892.3 299.5,892.5 301.0,891.8 302.5,891.5 304.0,891.9 305.5,891.9 307.0,891.9 308.5,892.5 310.0,891.6 311.5,892.4 313.0,891.5 314.5,891.6 316.0,892.1 317.5,892.2 319.0,892.1 320.5,891.8 322.0,891.7 323.5,891.6 325.0,891.6 326.5,891.2 328.0,891.3 329.5,891.2 331.0,890.8 332.5,890.8 334.0,890.5 335.5,890.7 337.0,889.9 338.5,889.2 340.0,888.9 341.5,888.6 343.0,888.4 344.5,887.5 346.0,887.1 347.5,886.9 349.0,884.6 350.5,884.2 352.0,883.7 353.5,882.5 355.0,881.0 356.5,878.9 358.0,877.0 359.5,873.8 361.0,869.5 362.5,865.0 364.0,856.7 365.5,846.2 367.0,832.8 368.5,815.4 370.0,794.6 371.5,770.3 373.0,748.2 374.5,732.0 376.0,726.5 377.5,736.3 379.0,756.2 380.5,779.7 382.0,802.7 383.5,821.3 385.0,837.7 386.5,850.1 388.0,859.7 389.5,866.7 391.0,870.3 392.5,875.3 394.0,877.1 395.5,880.0 397.0,880.9 398.5,882.9 400.0,884.4 401.5,884.9 403.0,885.9 404.5,886.8 406.0,887.2 407.5,887.7 409.0,888.8 410.5,889.1 412.0,889.0 413.5,890.5 415.0,889.4 416.5,890.5 418.0,890.3 419.5,890.7 421.0,891.1 422.5,891.1 424.0,891.4 425.5,890.8 427.0,890.9 428.5,891.8 430.0,891.3 431.5,891.4 433.0,891.3 434.5,892.3 436.0,892.2 437.5,892.4 439.0,891.6 440.5,892.0 442.0,891.6 443.5,892.2 445.0,892.5 446.5,891.7 448.0,892.5 449.5,892.3 451.0,891.9 452.5,891.3 454.0,892.5 455.5,892.0 457.0,891.8 458.5,892.1 460.0,892.1 461.5,892.5 463.0,891.6 464.5,892.4 466.0,892.5 467.5,892.5 469.0,891.9 470.5,891.7 472.0,892.3 473.5,892.0 475.0,892.0 476.5,892.5 478.0,891.9 479.5,891.1 481.0,891.8 482.5,891.3 484.0,892.2 485.5,892.0 487.0,891.7 488.5,891.9 490.0,892.2 491.5,891.9 493.0,892.4 494.5,891.9 496.0,892.2 497.5,892.4 499.0,892.4 500.5,891.6 502.0,892.2 503.5,891.2 505.0,891.4 506.5,891.1 508.0,892.2 509.5,891.4 511.0,891.8 512.5,891.7 514.0,891.7 515.5,891.5 517.0,891.8 518.5,892.3 520.0,891.7 521.5,891.8 523.0,892.0 524.5,891.5 526.0,891.1 527.5,891.3 529.0,891.9 530.5,890.9 532.0,891.2 533.5,891.6 535.0,891.5 536.5,891.1 538.0,891.2 539.5,890.7 541.0,889.9 542.5,889.3 544.0,889.1 545.5,889.0 547.0,887.6 548.5,886.4 550.0,885.2 551.5,883.4 553.0,882.2 554.5,880.0 556.0,878.5 557.5,875.3 559.0,874.0 560.5,871.3 562.0,868.5 563.5,867.1 565.0,864.5 566.5,861.7 568.0,860.2 569.5,859.0 571.0,857.4 572.5,856.9 574.0,856.5 575.5,856.6 577.0,857.1 578.5,858.6 580.0,860.0 581.5,861.9 583.0,863.3 584.5,866.8 586.0,869.5 587.5,871.5 589.0,874.0 590.5,877.3 592.0,878.2 593.5,881.1 595.0,883.6 596.5,884.0 598.0,886.0 599.5,887.6 601.0,887.9 602.5,888.9 604.0,889.7 605.5,889.5 607.0,890.2 608.5,890.7 610.0,891.1 611.5,891.0 613.0,891.1 614.5,890.9 616.0,891.2 617.5,891.7 619.0,891.5 620.5,891.2 622.0,891.3 623.5,892.5 625.0,892.0 626.5,891.9 628.0,890.8 629.5,891.9 631.0,891.9 632.5,892.3 634.0,891.9 635.5,891.7 637.0,892.0 638.5,891.1 640.0,892.2 641.5,891.9 643.0,891.6 644.5,892.3 646.0,892.5 647.5,891.4 649.0,891.6 650.5,892.0 652.0,891.9 653.5,891.7 655.0,891.6 656.5,892.6 658.0,892.3 659.5,891.5 661.0,891.4 662.5,892.5 664.0,892.3 665.5,892.6 667.0,892.2 668.5,891.6 670.0,892.0 671.5,891.2 673.0,891.7 674.5,891.9 676.0,892.1 677.5,891.6 679.0,891.8 680.5,892.0 682.0,892.0 683.5,892.1 685.0,891.9 686.5,891.7 688.0,892.0 689.5,891.7 691.0,891.4 692.5,891.4 694.0,891.6 695.5,891.5 697.0,891.6 698.5,891.4 700.0,891.4 701.5,891.2 703.0,890.8 704.5,891.3 706.0,891.4 707.5,891.0 709.0,890.6 710.5,890.7 712.0,889.9 713.5,889.2 715.0,889.4 716.5,888.3 718.0,887.8 719.5,885.5 721.0,882.6 722.5,879.9 724.0,876.6 725.5,870.6 727.0,864.3 728.5,858.2 730.0,852.8 731.5,848.4 733.0,846.2 734.5,847.7 736.0,851.1 737.5,856.3 739.0,862.7 740.5,869.3 742.0,874.6 743.5,879.2 745.0,882.1 746.5,885.1 748.0,887.3 749.5,888.2 751.0,889.5 752.5,890.0 754.0,890.5 755.5,890.3 757.0,891.5 758.5,891.2 760.0,890.9 761.5,891.1 763.0,892.1 764.5,891.1 766.0,891.6 767.5,891.7 769.0,891.4 770.5,891.1 772.0,891.6 773.5,891.7 775.0,892.0 776.5,891.9 778.0,891.7 779.5,892.0 781.0,891.9 782.5,891.8 784.0,891.8 785.5,891.7 787.0,892.0 788.5,891.4 790.0,891.5 791.5,891.8 793.0,891.2 794.5,891.6 796.0,891.0 797.5,891.4 799.0,891.8 800.5,891.7 802.0,891.4 803.5,891.1 805.0,890.4 806.5,891.1 808.0,890.0 809.5,889.4 811.0,887.5 812.5,886.3 814.0,883.9 815.5,882.7 817.0,880.3 818.5,876.7 820.0,874.8 821.5,872.5 823.0,869.5 824.5,867.7 826.0,866.8 827.5,866.3 829.0,865.9 830.5,866.6 832.0,866.9 833.5,867.3 835.0,867.3 836.5,867.2 838.0,866.6 839.5,865.1 841.0,864.9 842.5,864.4 844.0,864.7 845.5,866.0 847.0,867.6 848.5,869.9 850.0,871.7 851.5,874.6 853.0,877.9 854.5,880.5 856.0,882.9 857.5,885.1 859.0,886.6 860.5,888.5 862.0,889.5 863.5,890.1 865.0,890.4 866.5,891.0 868.0,890.3 869.5,891.1 871.0,891.6 872.5,891.1 874.0,891.8 875.5,891.8 877.0,891.3 878.5,891.7 880.0,891.7 881.5,892.0 883.0,892.0 884.5,891.8 886.0,891.6 887.5,891.8 889.0,891.9 890.5,892.1 892.0,892.0 893.5,891.6 895.0,891.4 896.5,891.8 898.0,891.6 899.5,891.5 901.0,891.9 902.5,891.7 904.0,891.9 905.5,892.1 907.0,891.7 908.5,892.7 910.0,891.8 911.5,892.3 913.0,891.9 914.5,892.2 916.0,891.0 917.5,891.6 919.0,891.9 920.5,892.0 922.0,892.6 923.5,891.9 925.0,892.2 926.5,892.0 928.0,892.0 929.5,891.8 931.0,891.5 932.5,891.7 934.0,891.1 935.5,891.9 937.0,891.0 938.5,891.4 940.0,891.9 941.5,890.9 943.0,890.7 944.5,890.7 946.0,889.8 947.5,888.9 949.0,888.3 950.5,887.3 952.0,886.0 953.5,883.9 955.0,883.0 956.5,881.0 958.0,878.5 959.5,876.7 961.0,874.9 962.5,874.5 964.0,873.3 965.5,874.1 967.0,874.7 968.5,876.1 970.0,878.4 971.5,880.6 973.0,882.1 974.5,883.7 976.0,885.8 977.5,886.9 979.0,888.2 980.5,889.5 982.0,890.1 983.5,890.0 985.0,891.4 986.5,890.9 988.0,891.3 989.5,891.0 991.0,891.3 992.5,890.8 994.0,892.1 995.5,892.0 997.0,891.1 998.5,891.0 1000.0,891.0 1001.5,892.0 1003.0,891.5 1004.5,891.6 1006.0,891.6 1007.5,891.6 1009.0,891.3 1010.5,891.7 1012.0,891.2 1013.5,891.7 1015.0,891.8 1016.5,891.9 1018.0,891.6 1019.5,891.4 1021.0,891.7 1022.5,891.5 1024.0,892.2 1025.5,891.9 1027.0,891.6 1028.5,891.4 1030.0,891.3 1031.5,891.2 1033.0,891.3 1034.5,891.4 1036.0,891.4 1037.5,891.3 1039.0,891.6 1040.5,890.5 1042.0,890.5 1043.5,891.2 1045.0,889.3 1046.5,889.4 1048.0,889.3 1049.5,888.9 1051.0,888.6 1052.5,887.9 1054.0,887.7 1055.5,887.2 1057.0,887.1 1058.5,885.8 1060.0,885.9 1061.5,885.9 1063.0,885.4 1064.5,885.3 1066.0,885.7 1067.5,885.1 1069.0,885.5 1070.5,885.4 1072.0,885.0 1073.5,884.9 1075.0,884.4 1076.5,883.7 1078.0,883.9 1079.5,883.9 1081.0,883.4 1082.5,883.4 1084.0,883.8 1085.5,883.3 1087.0,884.1 1088.5,885.0 1090.0,884.6 1091.5,885.4 1093.0,885.9 1094.5,887.1 1096.0,887.2 1097.5,888.0 1099.0,888.0 1100.5,888.8 1102.0,889.2 1103.5,889.0 1105.0,890.5 1106.5,890.6 1108.0,890.0 1109.5,891.0 1111.0,890.9 1112.5,891.2 1114.0,891.3 1115.5,890.7 1117.0,891.3 1118.5,891.9 1120.0,891.2 1121.5,891.1 1123.0,891.0 1124.5,891.0 1126.0,891.6 1127.5,892.0 1129.0,891.5 1130.5,891.4 1132.0,892.1 1133.5,891.0 1135.0,890.8 1136.5,891.1 1138.0,890.9 1139.5,890.1 1141.0,889.6 1142.5,889.7 1144.0,889.1 1145.5,887.9 1147.0,887.5 1148.5,886.6 1150.0,886.0 1151.5,884.9 1153.0,884.0 1154.5,883.0 1156.0,882.8 1157.5,882.4 1159.0,881.6 1160.5,882.0 1162.0,881.8 1163.5,882.7 1165.0,883.7 1166.5,884.9 1168.0,885.1 1169.5,886.2 1171.0,887.2 1172.5,887.4 1174.0,888.7 1175.5,889.1 1177.0,890.0 1178.5,889.9 1180.0,889.9 1181.5,890.9 1183.0,891.2 1184.5,891.1 1186.0,891.7 1187.5,891.4 1189.0,891.4 1190.5,891.8 1192.0,891.1 1193.5,891.5 1195.0,891.7 1196.5,892.1 1198.0,891.7 1199.5,891.9 1201.0,891.6 1202.5,891.9 1204.0,892.4 1205.5,891.6 1207.0,892.7 1208.5,891.6 1210.0,891.9 1211.5,892.0 1213.0,892.3 1214.5,891.5 1216.0,891.2 1217.5,892.1 1219.0,892.2 1220.5,892.2 1222.0,892.9 1223.5,892.0 1225.0,892.0 1226.5,892.3 1228.0,892.1 1229.5,892.5 1231.0,891.5 1232.5,891.8 1234.0,890.8 1235.5,892.3 1237.0,891.8" fill="none" stroke="#1A6DE0" stroke-width="8.0" stroke-linejoin="round"/>
<path d="M134.5,710.1 136.0,710.6 137.5,710.8 139.0,710.3 140.5,710.0 142.0,710.5 143.5,710.7 145.0,710.9 146.5,710.1 148.0,710.0 149.5,710.7 151.0,710.7 152.5,711.0 154.0,710.8 155.5,710.5 157.0,710.4 158.5,711.4 160.0,710.4 161.5,710.2 163.0,710.1 164.5,710.5 166.0,710.6 167.5,710.4 169.0,710.5 170.5,710.6 172.0,710.7 173.5,710.9 175.0,710.6 176.5,709.9 178.0,710.7 179.5,710.0 181.0,710.4 182.5,710.0 184.0,710.5 185.5,710.2 187.0,710.6 188.5,711.7 190.0,710.5 191.5,710.8 193.0,710.0 194.5,710.4 196.0,710.7 197.5,710.5 199.0,710.6 200.5,710.5 202.0,710.1 203.5,710.7 205.0,710.2 206.5,711.2 208.0,710.3 209.5,710.7 211.0,710.5 212.5,710.8 214.0,710.3 215.5,710.8 217.0,710.5 218.5,710.9 220.0,710.7 221.5,710.5 223.0,710.2 224.5,710.8 226.0,710.7 227.5,711.1 229.0,710.4 230.5,710.7 232.0,710.7 233.5,710.6 235.0,710.6 236.5,710.6 238.0,710.3 239.5,710.1 241.0,710.4 242.5,710.7 244.0,711.0 245.5,710.8 247.0,710.9 248.5,710.8 250.0,710.7 251.5,710.6 253.0,710.8 254.5,711.1 256.0,710.4 257.5,710.3 259.0,711.2 260.5,710.6 262.0,710.8 263.5,710.8 265.0,710.1 266.5,711.4 268.0,711.1 269.5,710.6 271.0,710.8 272.5,710.5 274.0,710.2 275.5,710.5 277.0,710.6 278.5,710.9 280.0,710.7 281.5,710.5 283.0,711.0 284.5,710.2 286.0,710.8 287.5,710.9 289.0,710.4 290.5,709.9 292.0,710.2 293.5,710.6 295.0,710.7 296.5,711.0 298.0,710.1 299.5,710.5 301.0,710.7 302.5,710.4 304.0,709.7 305.5,710.8 307.0,711.3 308.5,710.9 310.0,710.2 311.5,710.4 313.0,710.6 314.5,711.4 316.0,710.7 317.5,710.5 319.0,711.0 320.5,710.4 322.0,711.1 323.5,710.2 325.0,710.2 326.5,710.6 328.0,710.8 329.5,710.5 331.0,710.3 332.5,709.5 334.0,709.8 335.5,709.7 337.0,709.6 338.5,709.8 340.0,709.3 341.5,709.6 343.0,709.1 344.5,708.7 346.0,708.6 347.5,708.4 349.0,708.2 350.5,707.3 352.0,706.9 353.5,705.9 355.0,706.3 356.5,705.4 358.0,703.6 359.5,701.9 361.0,699.0 362.5,695.3 364.0,688.3 365.5,677.9 367.0,660.6 368.5,637.3 370.0,607.9 371.5,577.2 373.0,546.4 374.5,524.8 376.0,521.1 377.5,534.8 379.0,563.8 380.5,595.0 382.0,625.6 383.5,651.0 385.0,669.7 386.5,683.8 388.0,692.0 389.5,698.0 391.0,700.3 392.5,702.7 394.0,704.8 395.5,705.9 397.0,705.7 398.5,706.2 400.0,707.5 401.5,708.0 403.0,707.7 404.5,708.2 406.0,708.4 407.5,708.5 409.0,708.9 410.5,709.8 412.0,709.8 413.5,710.4 415.0,709.8 416.5,709.9 418.0,709.7 419.5,710.1 421.0,709.8 422.5,709.7 424.0,710.6 425.5,710.9 427.0,710.7 428.5,710.9 430.0,710.5 431.5,710.2 433.0,710.5 434.5,710.4 436.0,710.1 437.5,709.9 439.0,710.0 440.5,710.5 442.0,710.6 443.5,710.3 445.0,711.0 446.5,710.6 448.0,710.7 449.5,710.9 451.0,710.2 452.5,709.8 454.0,710.8 455.5,710.3 457.0,711.0 458.5,710.6 460.0,710.8 461.5,710.8 463.0,709.8 464.5,710.7 466.0,710.2 467.5,710.2 469.0,710.3 470.5,710.7 472.0,710.8 473.5,710.8 475.0,709.9 476.5,710.3 478.0,709.6 479.5,710.4 481.0,710.7 482.5,710.2 484.0,710.5 485.5,710.5 487.0,710.8 488.5,710.1 490.0,710.1 491.5,710.1 493.0,711.0 494.5,710.8 496.0,710.4 497.5,710.5 499.0,710.4 500.5,710.4 502.0,710.3 503.5,710.2 505.0,709.9 506.5,710.1 508.0,710.9 509.5,710.5 511.0,710.3 512.5,710.2 514.0,710.3 515.5,710.4 517.0,710.0 518.5,710.3 520.0,710.3 521.5,709.9 523.0,709.9 524.5,709.8 526.0,709.7 527.5,710.3 529.0,709.2 530.5,709.9 532.0,709.7 533.5,709.6 535.0,709.8 536.5,710.0 538.0,709.5 539.5,709.2 541.0,708.7 542.5,708.5 544.0,708.3 545.5,707.2 547.0,706.1 548.5,705.0 550.0,703.8 551.5,702.2 553.0,701.3 554.5,699.0 556.0,696.6 557.5,694.7 559.0,691.4 560.5,689.3 562.0,686.6 563.5,683.1 565.0,680.5 566.5,678.2 568.0,676.7 569.5,674.9 571.0,672.7 572.5,672.6 574.0,671.9 575.5,672.4 577.0,673.4 578.5,675.1 580.0,676.8 581.5,679.6 583.0,682.3 584.5,685.8 586.0,689.3 587.5,692.4 589.0,694.1 590.5,696.2 592.0,698.9 593.5,700.8 595.0,703.5 596.5,704.5 598.0,705.3 599.5,706.9 601.0,707.6 602.5,707.5 604.0,708.3 605.5,708.8 607.0,709.2 608.5,709.5 610.0,709.5 611.5,709.8 613.0,709.6 614.5,709.6 616.0,710.5 617.5,710.1 619.0,710.2 620.5,709.5 622.0,710.0 623.5,710.4 625.0,709.7 626.5,710.6 628.0,710.1 629.5,710.4 631.0,710.2 632.5,710.3 634.0,710.7 635.5,710.1 637.0,710.8 638.5,710.0 640.0,710.0 641.5,710.6 643.0,710.0 644.5,710.2 646.0,710.7 647.5,710.8 649.0,709.8 650.5,710.6 652.0,711.1 653.5,710.8 655.0,710.3 656.5,710.2 658.0,710.3 659.5,710.0 661.0,710.3 662.5,710.4 664.0,710.4 665.5,710.9 667.0,710.4 668.5,709.9 670.0,710.8 671.5,710.1 673.0,710.3 674.5,710.4 676.0,710.3 677.5,710.1 679.0,710.4 680.5,711.2 682.0,710.2 683.5,710.4 685.0,710.8 686.5,710.7 688.0,710.6 689.5,710.6 691.0,709.6 692.5,710.0 694.0,710.3 695.5,710.3 697.0,710.6 698.5,710.2 700.0,709.9 701.5,709.9 703.0,709.7 704.5,709.8 706.0,709.8 707.5,709.3 709.0,709.0 710.5,708.8 712.0,709.3 713.5,709.1 715.0,708.7 716.5,708.1 718.0,707.4 719.5,706.0 721.0,704.5 722.5,701.1 724.0,697.2 725.5,691.0 727.0,683.7 728.5,673.8 730.0,663.9 731.5,654.9 733.0,649.1 734.5,647.2 736.0,651.4 737.5,660.2 739.0,669.5 740.5,679.9 742.0,688.0 743.5,695.0 745.0,699.3 746.5,703.5 748.0,705.2 749.5,706.4 751.0,708.3 752.5,708.4 754.0,709.8 755.5,709.0 757.0,708.9 758.5,709.3 760.0,710.0 761.5,709.5 763.0,709.8 764.5,709.9 766.0,709.5 767.5,710.0 769.0,709.8 770.5,709.6 772.0,710.4 773.5,710.4 775.0,710.3 776.5,709.9 778.0,709.6 779.5,710.5 781.0,710.3 782.5,709.8 784.0,710.3 785.5,709.8 787.0,710.4 788.5,710.4 790.0,710.5 791.5,710.4 793.0,710.4 794.5,709.9 796.0,710.1 797.5,710.1 799.0,710.1 800.5,710.3 802.0,710.3 803.5,710.6 805.0,709.0 806.5,709.8 808.0,709.2 809.5,709.4 811.0,707.9 812.5,705.4 814.0,704.0 815.5,700.7 817.0,697.6 818.5,692.7 820.0,688.6 821.5,684.3 823.0,680.9 824.5,678.6 826.0,677.6 827.5,679.5 829.0,681.8 830.5,684.1 832.0,686.2 833.5,688.3 835.0,688.7 836.5,687.4 838.0,685.2 839.5,682.7 841.0,678.7 842.5,676.6 844.0,675.1 845.5,676.3 847.0,678.8 848.5,682.6 850.0,687.2 851.5,692.9 853.0,696.7 854.5,700.5 856.0,704.4 857.5,705.9 859.0,706.9 860.5,708.7 862.0,708.9 863.5,710.2 865.0,709.4 866.5,709.8 868.0,709.6 869.5,710.2 871.0,709.9 872.5,710.2 874.0,710.1 875.5,710.1 877.0,710.7 878.5,710.7 880.0,710.4 881.5,710.1 883.0,710.0 884.5,710.5 886.0,711.3 887.5,710.3 889.0,710.2 890.5,710.2 892.0,710.1 893.5,710.1 895.0,710.4 896.5,711.0 898.0,710.5 899.5,710.3 901.0,709.9 902.5,710.5 904.0,710.5 905.5,710.0 907.0,710.1 908.5,710.4 910.0,710.8 911.5,710.6 913.0,710.5 914.5,710.3 916.0,710.5 917.5,710.4 919.0,711.1 920.5,710.0 922.0,710.2 923.5,710.8 925.0,710.2 926.5,710.8 928.0,710.2 929.5,710.3 931.0,710.0 932.5,709.6 934.0,709.7 935.5,710.8 937.0,710.2 938.5,710.1 940.0,710.1 941.5,709.9 943.0,709.9 944.5,709.2 946.0,708.9 947.5,708.8 949.0,707.6 950.5,706.2 952.0,705.1 953.5,703.1 955.0,701.1 956.5,697.9 958.0,694.8 959.5,692.0 961.0,690.1 962.5,687.6 964.0,686.9 965.5,687.4 967.0,689.3 968.5,692.1 970.0,695.2 971.5,697.1 973.0,701.0 974.5,702.9 976.0,704.8 977.5,707.3 979.0,707.5 980.5,709.0 982.0,709.2 983.5,708.9 985.0,709.7 986.5,709.9 988.0,709.8 989.5,709.1 991.0,709.8 992.5,710.0 994.0,709.7 995.5,710.8 997.0,710.1 998.5,710.1 1000.0,710.1 1001.5,710.0 1003.0,710.0 1004.5,710.3 1006.0,710.4 1007.5,710.2 1009.0,710.3 1010.5,709.9 1012.0,710.6 1013.5,710.1 1015.0,710.5 1016.5,710.1 1018.0,710.2 1019.5,710.5 1021.0,710.0 1022.5,711.3 1024.0,710.4 1025.5,710.4 1027.0,710.1 1028.5,710.9 1030.0,710.9 1031.5,710.5 1033.0,709.9 1034.5,710.1 1036.0,710.5 1037.5,710.1 1039.0,709.8 1040.5,709.8 1042.0,709.9 1043.5,710.0 1045.0,709.7 1046.5,709.7 1048.0,710.4 1049.5,709.6 1051.0,708.1 1052.5,707.9 1054.0,707.1 1055.5,706.2 1057.0,705.7 1058.5,704.5 1060.0,703.9 1061.5,703.6 1063.0,703.7 1064.5,704.6 1066.0,705.0 1067.5,704.9 1069.0,705.8 1070.5,706.2 1072.0,707.0 1073.5,706.7 1075.0,706.6 1076.5,705.7 1078.0,704.3 1079.5,704.2 1081.0,703.2 1082.5,702.6 1084.0,701.6 1085.5,702.2 1087.0,702.4 1088.5,703.2 1090.0,704.6 1091.5,705.7 1093.0,706.2 1094.5,706.8 1096.0,707.3 1097.5,708.6 1099.0,709.6 1100.5,709.5 1102.0,709.0 1103.5,709.6 1105.0,710.1 1106.5,710.6 1108.0,710.5 1109.5,710.3 1111.0,710.2 1112.5,709.8 1114.0,710.0 1115.5,710.1 1117.0,709.9 1118.5,710.2 1120.0,710.0 1121.5,710.3 1123.0,710.6 1124.5,710.4 1126.0,710.3 1127.5,710.0 1129.0,709.5 1130.5,710.0 1132.0,710.1 1133.5,709.5 1135.0,710.2 1136.5,709.4 1138.0,709.4 1139.5,708.9 1141.0,708.2 1142.5,708.8 1144.0,707.0 1145.5,706.9 1147.0,705.4 1148.5,704.6 1150.0,703.0 1151.5,701.8 1153.0,701.0 1154.5,700.2 1156.0,698.1 1157.5,697.7 1159.0,697.7 1160.5,697.2 1162.0,698.2 1163.5,698.5 1165.0,700.1 1166.5,701.3 1168.0,702.9 1169.5,703.8 1171.0,704.5 1172.5,706.2 1174.0,706.5 1175.5,707.9 1177.0,708.8 1178.5,709.0 1180.0,708.9 1181.5,709.8 1183.0,709.7 1184.5,709.4 1186.0,709.8 1187.5,710.5 1189.0,710.0 1190.5,710.2 1192.0,710.0 1193.5,709.6 1195.0,710.0 1196.5,710.4 1198.0,710.3 1199.5,710.2 1201.0,709.5 1202.5,710.7 1204.0,710.6 1205.5,710.7 1207.0,710.8 1208.5,710.2 1210.0,710.2 1211.5,710.5 1213.0,711.0 1214.5,709.8 1216.0,710.3 1217.5,710.2 1219.0,710.6 1220.5,710.9 1222.0,710.3 1223.5,710.0 1225.0,710.5 1226.5,710.4 1228.0,709.9 1229.5,710.8 1231.0,710.3 1232.5,710.7 1234.0,710.0 1235.5,710.9 1237.0,710.0" fill="none" stroke="#33AE6C" stroke-width="8.0" stroke-linejoin="round"/>
<path d="M134.5,524.4 136.0,524.9 137.5,524.1 139.0,523.8 140.5,524.5 142.0,524.6 143.5,524.6 145.0,524.6 146.5,524.4 148.0,524.2 149.5,524.2 151.0,524.4 152.5,524.3 154.0,524.8 155.5,524.7 157.0,524.0 158.5,524.7 160.0,524.4 161.5,524.8 163.0,525.0 164.5,524.6 166.0,523.8 167.5,524.7 169.0,523.9 170.5,525.0 172.0,524.2 173.5,524.4 175.0,525.1 176.5,523.8 178.0,524.4 179.5,524.1 181.0,524.3 182.5,524.2 184.0,524.7 185.5,524.3 187.0,524.6 188.5,524.7 190.0,523.8 191.5,524.9 193.0,524.4 194.5,523.9 196.0,524.2 197.5,524.7 199.0,524.8 200.5,524.2 202.0,524.5 203.5,524.5 205.0,524.8 206.5,524.4 208.0,524.8 209.5,524.1 211.0,524.2 212.5,524.7 214.0,524.7 215.5,524.4 217.0,524.7 218.5,524.5 220.0,524.7 221.5,524.9 223.0,524.6 224.5,524.7 226.0,524.3 227.5,524.2 229.0,523.6 230.5,524.6 232.0,524.5 233.5,524.6 235.0,523.8 236.5,524.3 238.0,524.2 239.5,523.8 241.0,524.8 242.5,524.9 244.0,524.0 245.5,524.6 247.0,525.1 248.5,524.0 250.0,524.8 251.5,525.0 253.0,525.1 254.5,524.0 256.0,524.1 257.5,524.5 259.0,524.9 260.5,524.0 262.0,524.2 263.5,524.0 265.0,524.8 266.5,524.2 268.0,524.6 269.5,524.7 271.0,524.9 272.5,524.6 274.0,524.6 275.5,524.9 277.0,524.6 278.5,524.0 280.0,524.2 281.5,524.8 283.0,524.5 284.5,524.3 286.0,524.5 287.5,525.6 289.0,524.4 290.5,524.6 292.0,524.6 293.5,524.3 295.0,524.9 296.5,524.7 298.0,524.6 299.5,524.0 301.0,524.9 302.5,524.7 304.0,524.4 305.5,523.5 307.0,524.4 308.5,524.0 310.0,524.3 311.5,524.2 313.0,524.1 314.5,524.8 316.0,524.4 317.5,524.8 319.0,524.0 320.5,524.3 322.0,524.8 323.5,524.4 325.0,524.0 326.5,523.9 328.0,523.9 329.5,524.1 331.0,524.3 332.5,524.0 334.0,524.1 335.5,524.1 337.0,523.7 338.5,524.0 340.0,523.7 341.5,523.2 343.0,523.1 344.5,522.9 346.0,522.5 347.5,522.0 349.0,522.3 350.5,521.8 352.0,521.8 353.5,520.9 355.0,520.6 356.5,519.9 358.0,518.5 359.5,517.0 361.0,514.0 362.5,509.8 364.0,503.7 365.5,494.0 367.0,480.9 368.5,464.2 370.0,445.6 371.5,425.9 373.0,405.9 374.5,393.9 376.0,389.2 377.5,395.3 379.0,409.4 380.5,427.5 382.0,448.7 383.5,466.7 385.0,482.8 386.5,495.6 388.0,504.4 389.5,510.7 391.0,514.5 392.5,516.9 394.0,518.9 395.5,519.6 397.0,521.2 398.5,521.3 400.0,522.1 401.5,521.5 403.0,521.5 404.5,521.7 406.0,522.6 407.5,522.5 409.0,523.3 410.5,522.8 412.0,523.0 413.5,523.7 415.0,523.6 416.5,524.0 418.0,524.2 419.5,524.1 421.0,523.6 422.5,523.8 424.0,525.0 425.5,524.1 427.0,524.4 428.5,524.3 430.0,524.3 431.5,524.3 433.0,524.2 434.5,524.2 436.0,523.7 437.5,525.0 439.0,524.4 440.5,523.9 442.0,524.6 443.5,524.7 445.0,523.9 446.5,524.2 448.0,525.0 449.5,524.6 451.0,524.6 452.5,524.8 454.0,524.4 455.5,524.3 457.0,525.0 458.5,524.4 460.0,524.4 461.5,524.7 463.0,524.4 464.5,524.0 466.0,525.1 467.5,524.4 469.0,525.1 470.5,524.6 472.0,524.1 473.5,525.0 475.0,524.3 476.5,524.1 478.0,524.4 479.5,523.6 481.0,524.5 482.5,524.1 484.0,524.3 485.5,524.1 487.0,524.6 488.5,524.5 490.0,524.8 491.5,525.0 493.0,524.5 494.5,524.4 496.0,524.4 497.5,524.0 499.0,524.1 500.5,524.6 502.0,524.0 503.5,523.6 505.0,524.2 506.5,524.4 508.0,524.8 509.5,524.0 511.0,523.9 512.5,524.3 514.0,524.2 515.5,524.3 517.0,524.0 518.5,524.2 520.0,523.9 521.5,524.5 523.0,524.2 524.5,524.3 526.0,523.9 527.5,523.5 529.0,524.0 530.5,523.9 532.0,524.3 533.5,524.2 535.0,523.7 536.5,523.6 538.0,523.1 539.5,523.2 541.0,523.0 542.5,522.4 544.0,521.7 545.5,521.9 547.0,520.3 548.5,520.3 550.0,519.0 551.5,517.8 553.0,515.4 554.5,514.3 556.0,511.8 557.5,510.3 559.0,508.0 560.5,506.3 562.0,504.5 563.5,503.2 565.0,501.5 566.5,499.4 568.0,498.0 569.5,496.6 571.0,495.7 572.5,495.0 574.0,495.5 575.5,496.2 577.0,496.4 578.5,498.0 580.0,498.9 581.5,500.7 583.0,502.8 584.5,505.3 586.0,506.9 587.5,509.4 589.0,511.0 590.5,512.7 592.0,514.1 593.5,516.2 595.0,517.4 596.5,519.2 598.0,520.1 599.5,520.2 601.0,521.8 602.5,522.3 604.0,521.5 605.5,522.5 607.0,523.3 608.5,522.8 610.0,523.3 611.5,523.9 613.0,523.9 614.5,524.0 616.0,524.2 617.5,523.7 619.0,524.9 620.5,524.2 622.0,524.8 623.5,524.0 625.0,524.3 626.5,524.3 628.0,524.1 629.5,524.3 631.0,524.3 632.5,524.5 634.0,524.3 635.5,524.3 637.0,524.4 638.5,524.8 640.0,524.3 641.5,524.5 643.0,524.3 644.5,523.6 646.0,524.0 647.5,524.0 649.0,523.8 650.5,524.1 652.0,523.7 653.5,524.4 655.0,524.2 656.5,524.8 658.0,524.5 659.5,523.9 661.0,524.3 662.5,524.4 664.0,524.1 665.5,524.2 667.0,524.0 668.5,524.1 670.0,524.5 671.5,524.3 673.0,524.8 674.5,523.6 676.0,524.1 677.5,524.2 679.0,524.9 680.5,524.7 682.0,524.6 683.5,524.7 685.0,524.9 686.5,524.5 688.0,524.2 689.5,524.3 691.0,523.9 692.5,524.1 694.0,524.3 695.5,523.9 697.0,524.1 698.5,523.8 700.0,523.5 701.5,523.4 703.0,524.0 704.5,523.7 706.0,523.9 707.5,523.5 709.0,523.4 710.5,523.3 712.0,522.9 713.5,523.3 715.0,522.8 716.5,522.1 718.0,520.9 719.5,520.0 721.0,518.5 722.5,516.4 724.0,512.5 725.5,508.0 727.0,502.6 728.5,496.1 730.0,489.6 731.5,483.6 733.0,480.7 734.5,479.6 736.0,481.9 737.5,487.1 739.0,492.9 740.5,499.3 742.0,505.2 743.5,510.9 745.0,514.2 746.5,517.6 748.0,519.1 749.5,520.2 751.0,521.5 752.5,522.0 754.0,522.4 755.5,523.5 757.0,523.2 758.5,523.1 760.0,523.7 761.5,523.4 763.0,524.1 764.5,523.2 766.0,524.2 767.5,523.5 769.0,523.7 770.5,524.1 772.0,523.7 773.5,523.5 775.0,524.0 776.5,524.0 778.0,523.6 779.5,524.5 781.0,523.9 782.5,524.0 784.0,524.2 785.5,524.3 787.0,524.6 788.5,523.5 790.0,524.2 791.5,524.5 793.0,524.3 794.5,524.2 796.0,523.8 797.5,524.3 799.0,524.0 800.5,524.2 802.0,523.7 803.5,523.9 805.0,523.8 806.5,523.1 808.0,523.6 809.5,522.6 811.0,521.4 812.5,520.6 814.0,519.2 815.5,517.1 817.0,514.4 818.5,512.0 820.0,508.7 821.5,505.8 823.0,504.4 824.5,502.7 826.0,501.7 827.5,501.7 829.0,501.8 830.5,502.0 832.0,503.1 833.5,504.4 835.0,504.1 836.5,503.7 838.0,502.9 839.5,501.8 841.0,499.9 842.5,499.5 844.0,499.4 845.5,499.3 847.0,502.0 848.5,504.2 850.0,506.6 851.5,510.6 853.0,513.1 854.5,515.8 856.0,518.5 857.5,518.9 859.0,521.2 860.5,522.6 862.0,523.5 863.5,523.4 865.0,523.6 866.5,523.6 868.0,523.9 869.5,523.8 871.0,523.3 872.5,524.0 874.0,523.8 875.5,524.0 877.0,524.1 878.5,524.1 880.0,524.3 881.5,524.3 883.0,524.2 884.5,524.1 886.0,524.3 887.5,524.2 889.0,524.3 890.5,524.8 892.0,524.4 893.5,524.2 895.0,523.6 896.5,523.8 898.0,523.3 899.5,524.7 901.0,524.7 902.5,524.2 904.0,524.2 905.5,524.5 907.0,524.5 908.5,523.7 910.0,524.2 911.5,524.2 913.0,523.9 914.5,524.8 916.0,524.5 917.5,524.0 919.0,524.2 920.5,524.0 922.0,524.0 923.5,524.0 925.0,524.5 926.5,524.1 928.0,523.9 929.5,523.8 931.0,524.1 932.5,523.7 934.0,523.4 935.5,523.9 937.0,524.4 938.5,523.5 940.0,523.7 941.5,523.5 943.0,523.8 944.5,523.2 946.0,522.2 947.5,522.7 949.0,521.2 950.5,519.9 952.0,518.6 953.5,517.1 955.0,515.5 956.5,512.8 958.0,510.3 959.5,508.8 961.0,507.0 962.5,505.0 964.0,504.6 965.5,505.1 967.0,506.1 968.5,507.7 970.0,510.6 971.5,512.2 973.0,514.1 974.5,517.0 976.0,519.0 977.5,520.3 979.0,520.8 980.5,521.8 982.0,522.1 983.5,522.8 985.0,522.4 986.5,523.2 988.0,524.1 989.5,523.3 991.0,524.4 992.5,523.9 994.0,523.2 995.5,524.3 997.0,523.6 998.5,524.2 1000.0,524.0 1001.5,523.9 1003.0,524.0 1004.5,523.6 1006.0,523.8 1007.5,524.0 1009.0,524.7 1010.5,523.9 1012.0,524.2 1013.5,524.3 1015.0,524.6 1016.5,524.1 1018.0,524.2 1019.5,523.8 1021.0,525.0 1022.5,523.6 1024.0,524.2 1025.5,523.9 1027.0,524.1 1028.5,523.8 1030.0,523.8 1031.5,524.3 1033.0,524.2 1034.5,523.7 1036.0,523.6 1037.5,523.5 1039.0,523.3 1040.5,523.2 1042.0,523.1 1043.5,522.7 1045.0,521.6 1046.5,521.7 1048.0,520.9 1049.5,520.9 1051.0,520.2 1052.5,519.8 1054.0,519.2 1055.5,519.0 1057.0,518.7 1058.5,518.0 1060.0,517.1 1061.5,517.4 1063.0,518.0 1064.5,517.0 1066.0,517.3 1067.5,518.2 1069.0,518.0 1070.5,517.6 1072.0,517.4 1073.5,516.8 1075.0,517.7 1076.5,517.3 1078.0,516.2 1079.5,516.6 1081.0,516.5 1082.5,516.4 1084.0,516.3 1085.5,517.5 1087.0,516.6 1088.5,517.9 1090.0,518.0 1091.5,518.4 1093.0,519.1 1094.5,519.8 1096.0,519.9 1097.5,520.6 1099.0,521.6 1100.5,522.0 1102.0,522.2 1103.5,522.1 1105.0,522.2 1106.5,523.6 1108.0,523.8 1109.5,523.6 1111.0,523.7 1112.5,523.5 1114.0,523.9 1115.5,524.2 1117.0,524.1 1118.5,523.7 1120.0,524.0 1121.5,523.7 1123.0,523.9 1124.5,523.5 1126.0,523.0 1127.5,523.5 1129.0,523.9 1130.5,523.5 1132.0,523.9 1133.5,523.4 1135.0,523.6 1136.5,523.1 1138.0,523.6 1139.5,522.6 1141.0,522.4 1142.5,522.3 1144.0,521.8 1145.5,520.2 1147.0,520.3 1148.5,518.5 1150.0,517.6 1151.5,516.6 1153.0,516.3 1154.5,514.7 1156.0,514.5 1157.5,513.9 1159.0,513.4 1160.5,513.7 1162.0,514.7 1163.5,515.1 1165.0,515.1 1166.5,516.4 1168.0,517.2 1169.5,518.2 1171.0,519.1 1172.5,520.3 1174.0,520.6 1175.5,521.1 1177.0,522.2 1178.5,522.7 1180.0,523.4 1181.5,523.5 1183.0,523.2 1184.5,523.3 1186.0,523.9 1187.5,524.0 1189.0,524.2 1190.5,524.5 1192.0,523.3 1193.5,523.9 1195.0,524.3 1196.5,523.8 1198.0,524.8 1199.5,524.2 1201.0,524.4 1202.5,524.2 1204.0,524.4 1205.5,524.4 1207.0,524.5 1208.5,523.8 1210.0,523.6 1211.5,524.3 1213.0,524.6 1214.5,524.2 1216.0,524.3 1217.5,524.7 1219.0,524.6 1220.5,524.0 1222.0,524.4 1223.5,524.3 1225.0,524.4 1226.5,524.3 1228.0,524.6 1229.5,524.4 1231.0,524.5 1232.5,524.4 1234.0,524.3 1235.5,524.2 1237.0,524.5" fill="none" stroke="#B273DE" stroke-width="8.0" stroke-linejoin="round"/>
<path d="M134.5,378.3 136.0,378.8 137.5,379.2 139.0,378.8 140.5,379.0 142.0,378.4 143.5,378.8 145.0,378.8 146.5,379.2 148.0,379.0 149.5,378.9 151.0,378.6 152.5,378.6 154.0,378.9 155.5,379.4 157.0,378.2 158.5,377.9 160.0,379.6 161.5,379.5 163.0,379.1 164.5,379.0 166.0,378.8 167.5,378.8 169.0,378.5 170.5,379.1 172.0,378.8 173.5,378.2 175.0,378.7 176.5,378.7 178.0,378.7 179.5,379.6 181.0,379.3 182.5,377.7 184.0,379.1 185.5,379.3 187.0,379.4 188.5,379.2 190.0,378.2 191.5,379.2 193.0,378.9 194.5,379.5 196.0,379.1 197.5,378.4 199.0,379.6 200.5,378.5 202.0,379.3 203.5,379.1 205.0,378.7 206.5,378.1 208.0,378.6 209.5,378.6 211.0,378.8 212.5,378.8 214.0,379.5 215.5,379.1 217.0,379.3 218.5,378.5 220.0,378.7 221.5,379.3 223.0,379.3 224.5,379.2 226.0,378.7 227.5,378.5 229.0,379.6 230.5,378.7 232.0,378.8 233.5,379.5 235.0,378.9 236.5,378.7 238.0,379.2 239.5,378.8 241.0,379.4 242.5,378.9 244.0,378.6 245.5,379.8 247.0,379.4 248.5,379.0 250.0,378.9 251.5,378.4 253.0,378.7 254.5,378.4 256.0,379.2 257.5,379.4 259.0,378.8 260.5,378.7 262.0,379.0 263.5,378.9 265.0,379.1 266.5,379.1 268.0,379.1 269.5,379.1 271.0,378.5 272.5,379.2 274.0,378.2 275.5,378.9 277.0,378.8 278.5,379.0 280.0,378.8 281.5,379.0 283.0,378.2 284.5,378.7 286.0,378.6 287.5,379.0 289.0,379.0 290.5,378.7 292.0,378.7 293.5,378.6 295.0,378.8 296.5,379.0 298.0,379.1 299.5,378.8 301.0,378.5 302.5,378.5 304.0,379.1 305.5,378.4 307.0,378.6 308.5,377.9 310.0,379.0 311.5,378.6 313.0,378.3 314.5,378.4 316.0,378.6 317.5,378.3 319.0,378.3 320.5,378.1 322.0,377.5 323.5,377.2 325.0,378.0 326.5,377.3 328.0,377.7 329.5,377.5 331.0,376.6 332.5,376.3 334.0,376.1 335.5,376.5 337.0,375.6 338.5,375.1 340.0,375.1 341.5,374.0 343.0,373.6 344.5,373.0 346.0,372.5 347.5,371.3 349.0,370.6 350.5,369.9 352.0,368.2 353.5,366.7 355.0,365.2 356.5,362.2 358.0,359.1 359.5,355.0 361.0,348.7 362.5,341.3 364.0,330.2 365.5,316.6 367.0,301.3 368.5,282.7 370.0,262.7 371.5,241.9 373.0,225.5 374.5,216.0 376.0,215.5 377.5,225.6 379.0,241.6 380.5,262.1 382.0,282.1 383.5,301.3 385.0,316.4 386.5,330.4 388.0,340.5 389.5,348.5 391.0,354.4 392.5,358.7 394.0,362.0 395.5,365.1 397.0,366.6 398.5,368.9 400.0,370.0 401.5,371.0 403.0,372.1 404.5,372.5 406.0,373.5 407.5,373.2 409.0,374.1 410.5,375.1 412.0,375.2 413.5,376.2 415.0,376.0 416.5,376.0 418.0,377.1 419.5,376.9 421.0,377.0 422.5,377.3 424.0,377.2 425.5,377.5 427.0,378.1 428.5,377.7 430.0,378.1 431.5,377.9 433.0,378.3 434.5,378.6 436.0,378.7 437.5,378.5 439.0,378.4 440.5,378.8 442.0,379.0 443.5,379.0 445.0,379.8 446.5,378.9 448.0,378.6 449.5,378.7 451.0,379.2 452.5,378.5 454.0,378.8 455.5,378.3 457.0,378.8 458.5,379.1 460.0,379.3 461.5,379.1 463.0,379.3 464.5,378.6 466.0,379.5 467.5,379.5 469.0,378.3 470.5,378.5 472.0,379.1 473.5,379.1 475.0,379.3 476.5,378.9 478.0,378.5 479.5,378.6 481.0,379.4 482.5,378.9 484.0,378.2 485.5,378.8 487.0,379.1 488.5,378.8 490.0,379.1 491.5,379.0 493.0,378.8 494.5,378.4 496.0,378.8 497.5,379.1 499.0,378.6 500.5,379.2 502.0,379.5 503.5,379.1 505.0,378.9 506.5,378.8 508.0,378.4 509.5,379.3 511.0,378.6 512.5,378.5 514.0,379.4 515.5,379.1 517.0,378.5 518.5,378.8 520.0,378.8 521.5,378.9 523.0,377.9 524.5,378.2 526.0,378.0 527.5,378.6 529.0,378.2 530.5,378.6 532.0,379.0 533.5,378.4 535.0,377.7 536.5,377.9 538.0,377.8 539.5,376.7 541.0,377.3 542.5,376.4 544.0,375.9 545.5,375.2 547.0,373.8 548.5,373.0 550.0,371.2 551.5,369.0 553.0,367.5 554.5,365.4 556.0,363.5 557.5,361.6 559.0,358.2 560.5,356.4 562.0,354.0 563.5,352.2 565.0,350.6 566.5,349.1 568.0,346.5 569.5,346.1 571.0,345.8 572.5,344.8 574.0,345.4 575.5,345.9 577.0,347.3 578.5,348.3 580.0,349.1 581.5,351.5 583.0,354.1 584.5,356.2 586.0,358.5 587.5,361.4 589.0,362.9 590.5,365.4 592.0,367.7 593.5,368.5 595.0,370.9 596.5,372.1 598.0,373.2 599.5,375.2 601.0,375.1 602.5,376.3 604.0,376.3 605.5,376.7 607.0,377.5 608.5,378.1 610.0,377.9 611.5,378.3 613.0,378.2 614.5,378.7 616.0,378.5 617.5,378.6 619.0,378.8 620.5,378.7 622.0,378.6 623.5,378.5 625.0,378.7 626.5,378.5 628.0,379.1 629.5,378.7 631.0,379.0 632.5,378.5 634.0,378.9 635.5,378.2 637.0,378.5 638.5,379.2 640.0,378.8 641.5,378.0 643.0,378.6 644.5,378.7 646.0,378.5 647.5,378.2 649.0,378.3 650.5,379.4 652.0,378.6 653.5,379.1 655.0,379.0 656.5,378.5 658.0,378.9 659.5,378.9 661.0,378.4 662.5,378.9 664.0,378.8 665.5,378.9 667.0,378.7 668.5,378.6 670.0,378.8 671.5,378.5 673.0,379.2 674.5,378.9 676.0,378.8 677.5,378.7 679.0,378.9 680.5,378.8 682.0,378.6 683.5,379.0 685.0,379.3 686.5,379.4 688.0,378.9 689.5,378.5 691.0,379.8 692.5,378.7 694.0,378.6 695.5,378.2 697.0,378.5 698.5,378.2 700.0,378.1 701.5,378.2 703.0,378.2 704.5,378.1 706.0,378.0 707.5,377.1 709.0,377.8 710.5,377.2 712.0,377.2 713.5,376.4 715.0,376.7 716.5,376.1 718.0,375.0 719.5,373.5 721.0,371.5 722.5,369.5 724.0,365.0 725.5,360.0 727.0,354.4 728.5,348.3 730.0,341.7 731.5,336.1 733.0,332.4 734.5,331.8 736.0,334.1 737.5,337.9 739.0,344.1 740.5,350.6 742.0,357.3 743.5,362.9 745.0,367.1 746.5,370.0 748.0,372.7 749.5,373.9 751.0,375.4 752.5,376.2 754.0,376.5 755.5,377.1 757.0,377.8 758.5,377.4 760.0,377.8 761.5,377.8 763.0,377.3 764.5,378.3 766.0,377.7 767.5,377.6 769.0,378.4 770.5,378.4 772.0,378.6 773.5,378.6 775.0,378.9 776.5,378.6 778.0,378.9 779.5,378.8 781.0,378.2 782.5,378.7 784.0,378.8 785.5,378.8 787.0,378.7 788.5,378.6 790.0,379.2 791.5,378.8 793.0,378.3 794.5,379.0 796.0,378.7 797.5,378.6 799.0,378.5 800.5,377.5 802.0,377.4 803.5,377.8 805.0,378.1 806.5,377.4 808.0,376.1 809.5,376.0 811.0,375.0 812.5,372.5 814.0,370.8 815.5,368.3 817.0,366.0 818.5,363.1 820.0,360.9 821.5,358.9 823.0,356.8 824.5,355.4 826.0,354.4 827.5,353.5 829.0,352.9 830.5,353.9 832.0,354.2 833.5,354.0 835.0,354.6 836.5,353.6 838.0,353.4 839.5,352.7 841.0,352.4 842.5,350.8 844.0,351.2 845.5,352.4 847.0,354.5 848.5,356.8 850.0,358.7 851.5,361.6 853.0,365.1 854.5,367.2 856.0,369.8 857.5,372.3 859.0,374.0 860.5,375.0 862.0,376.4 863.5,376.9 865.0,377.3 866.5,377.5 868.0,378.3 869.5,379.0 871.0,378.5 872.5,378.5 874.0,378.8 875.5,378.4 877.0,378.6 878.5,378.8 880.0,378.7 881.5,379.0 883.0,378.8 884.5,378.6 886.0,379.0 887.5,379.1 889.0,379.4 890.5,378.4 892.0,378.6 893.5,379.6 895.0,378.8 896.5,379.4 898.0,378.9 899.5,378.6 901.0,378.5 902.5,378.6 904.0,379.2 905.5,378.2 907.0,378.5 908.5,378.9 910.0,378.8 911.5,378.6 913.0,378.6 914.5,378.4 916.0,378.6 917.5,379.4 919.0,378.9 920.5,378.8 922.0,379.0 923.5,378.6 925.0,377.9 926.5,379.1 928.0,378.0 929.5,378.4 931.0,378.8 932.5,377.8 934.0,378.6 935.5,378.1 937.0,377.9 938.5,378.1 940.0,377.8 941.5,377.6 943.0,377.5 944.5,377.5 946.0,376.6 947.5,375.7 949.0,375.2 950.5,374.1 952.0,372.4 953.5,371.4 955.0,369.5 956.5,367.9 958.0,365.9 959.5,364.1 961.0,362.4 962.5,361.9 964.0,361.5 965.5,361.7 967.0,362.6 968.5,364.5 970.0,365.5 971.5,367.2 973.0,369.7 974.5,370.9 976.0,372.5 977.5,374.3 979.0,375.4 980.5,376.5 982.0,376.0 983.5,376.7 985.0,377.2 986.5,377.3 988.0,378.3 989.5,378.4 991.0,377.6 992.5,378.5 994.0,378.8 995.5,378.8 997.0,378.7 998.5,378.0 1000.0,378.6 1001.5,378.2 1003.0,378.5 1004.5,378.8 1006.0,378.8 1007.5,378.7 1009.0,378.4 1010.5,379.3 1012.0,378.5 1013.5,378.6 1015.0,379.0 1016.5,378.7 1018.0,378.6 1019.5,378.7 1021.0,378.3 1022.5,378.6 1024.0,378.6 1025.5,378.6 1027.0,378.5 1028.5,378.5 1030.0,379.0 1031.5,378.3 1033.0,378.2 1034.5,378.4 1036.0,378.7 1037.5,378.1 1039.0,378.3 1040.5,377.9 1042.0,378.2 1043.5,377.5 1045.0,376.6 1046.5,376.3 1048.0,377.2 1049.5,375.9 1051.0,376.5 1052.5,375.8 1054.0,374.6 1055.5,375.2 1057.0,374.3 1058.5,374.4 1060.0,373.8 1061.5,373.4 1063.0,373.8 1064.5,373.7 1066.0,373.8 1067.5,373.9 1069.0,374.4 1070.5,373.6 1072.0,374.3 1073.5,373.9 1075.0,373.4 1076.5,374.0 1078.0,373.9 1079.5,373.8 1081.0,373.3 1082.5,373.9 1084.0,373.8 1085.5,373.4 1087.0,373.9 1088.5,373.2 1090.0,374.3 1091.5,374.5 1093.0,375.0 1094.5,375.9 1096.0,376.0 1097.5,376.3 1099.0,377.6 1100.5,377.7 1102.0,376.7 1103.5,377.8 1105.0,377.6 1106.5,377.6 1108.0,377.7 1109.5,377.8 1111.0,378.2 1112.5,378.4 1114.0,378.6 1115.5,378.9 1117.0,378.6 1118.5,378.8 1120.0,379.1 1121.5,378.3 1123.0,378.2 1124.5,378.6 1126.0,378.4 1127.5,378.6 1129.0,379.0 1130.5,377.8 1132.0,378.8 1133.5,378.2 1135.0,378.1 1136.5,378.9 1138.0,377.3 1139.5,376.9 1141.0,377.2 1142.5,376.6 1144.0,375.9 1145.5,375.5 1147.0,374.3 1148.5,373.9 1150.0,373.0 1151.5,372.0 1153.0,371.4 1154.5,370.5 1156.0,369.7 1157.5,369.6 1159.0,369.1 1160.5,369.2 1162.0,369.2 1163.5,369.7 1165.0,370.2 1166.5,371.3 1168.0,372.3 1169.5,373.4 1171.0,374.1 1172.5,374.9 1174.0,376.4 1175.5,376.4 1177.0,377.1 1178.5,377.6 1180.0,377.9 1181.5,378.0 1183.0,378.0 1184.5,377.5 1186.0,378.3 1187.5,378.8 1189.0,378.7 1190.5,378.4 1192.0,379.0 1193.5,379.4 1195.0,378.4 1196.5,378.6 1198.0,378.9 1199.5,377.9 1201.0,378.6 1202.5,378.7 1204.0,379.0 1205.5,378.1 1207.0,379.3 1208.5,378.7 1210.0,379.0 1211.5,378.4 1213.0,379.1 1214.5,378.9 1216.0,379.4 1217.5,379.0 1219.0,379.2 1220.5,378.4 1222.0,379.4 1223.5,379.2 1225.0,378.8 1226.5,378.6 1228.0,379.1 1229.5,378.7 1231.0,378.7 1232.5,379.1 1234.0,378.9 1235.5,378.6 1237.0,378.7" fill="none" stroke="#CC9E00" stroke-width="8.0" stroke-linejoin="round"/>
</g>
<rect x="134.5" y="28.75" width="1103" height="1200.75" fill="none" stroke="#4a4a4a" stroke-width="9"/>
<rect x="134.5" y="28.75" width="1103" height="1200.75" fill="none" stroke="#000" stroke-width="3.5"/>
<rect x="130.0" y="1229" width="9" height="20" fill="#262626"/>
<rect x="162.5" y="1229" width="7" height="11" fill="#262626"/>
<rect x="194.0" y="1229" width="7" height="11" fill="#262626"/>
<rect x="225.5" y="1229" width="7" height="11" fill="#262626"/>
<rect x="257.1" y="1229" width="7" height="11" fill="#262626"/>
<rect x="287.6" y="1229" width="9" height="20" fill="#262626"/>
<rect x="320.1" y="1229" width="7" height="11" fill="#262626"/>
<rect x="351.6" y="1229" width="7" height="11" fill="#262626"/>
<rect x="383.1" y="1229" width="7" height="11" fill="#262626"/>
<rect x="414.6" y="1229" width="7" height="11" fill="#262626"/>
<rect x="445.1" y="1229" width="9" height="20" fill="#262626"/>
<rect x="477.7" y="1229" width="7" height="11" fill="#262626"/>
<rect x="509.2" y="1229" width="7" height="11" fill="#262626"/>
<rect x="540.7" y="1229" width="7" height="11" fill="#262626"/>
<rect x="572.2" y="1229" width="7" height="11" fill="#262626"/>
<rect x="602.7" y="1229" width="9" height="20" fill="#262626"/>
<rect x="635.2" y="1229" width="7" height="11" fill="#262626"/>
<rect x="666.7" y="1229" width="7" height="11" fill="#262626"/>
<rect x="698.3" y="1229" width="7" height="11" fill="#262626"/>
<rect x="729.8" y="1229" width="7" height="11" fill="#262626"/>
<rect x="760.3" y="1229" width="9" height="20" fill="#262626"/>
<rect x="792.8" y="1229" width="7" height="11" fill="#262626"/>
<rect x="824.3" y="1229" width="7" height="11" fill="#262626"/>
<rect x="855.8" y="1229" width="7" height="11" fill="#262626"/>
<rect x="887.3" y="1229" width="7" height="11" fill="#262626"/>
<rect x="917.9" y="1229" width="9" height="20" fill="#262626"/>
<rect x="950.4" y="1229" width="7" height="11" fill="#262626"/>
<rect x="981.9" y="1229" width="7" height="11" fill="#262626"/>
<rect x="1013.4" y="1229" width="7" height="11" fill="#262626"/>
<rect x="1044.9" y="1229" width="7" height="11" fill="#262626"/>
<rect x="1075.4" y="1229" width="9" height="20" fill="#262626"/>
<rect x="1107.9" y="1229" width="7" height="11" fill="#262626"/>
<rect x="1139.5" y="1229" width="7" height="11" fill="#262626"/>
<rect x="1171.0" y="1229" width="7" height="11" fill="#262626"/>
<rect x="1202.5" y="1229" width="7" height="11" fill="#262626"/>
<rect x="1233.0" y="1229" width="9" height="20" fill="#262626"/>
</svg>
</body></html>
